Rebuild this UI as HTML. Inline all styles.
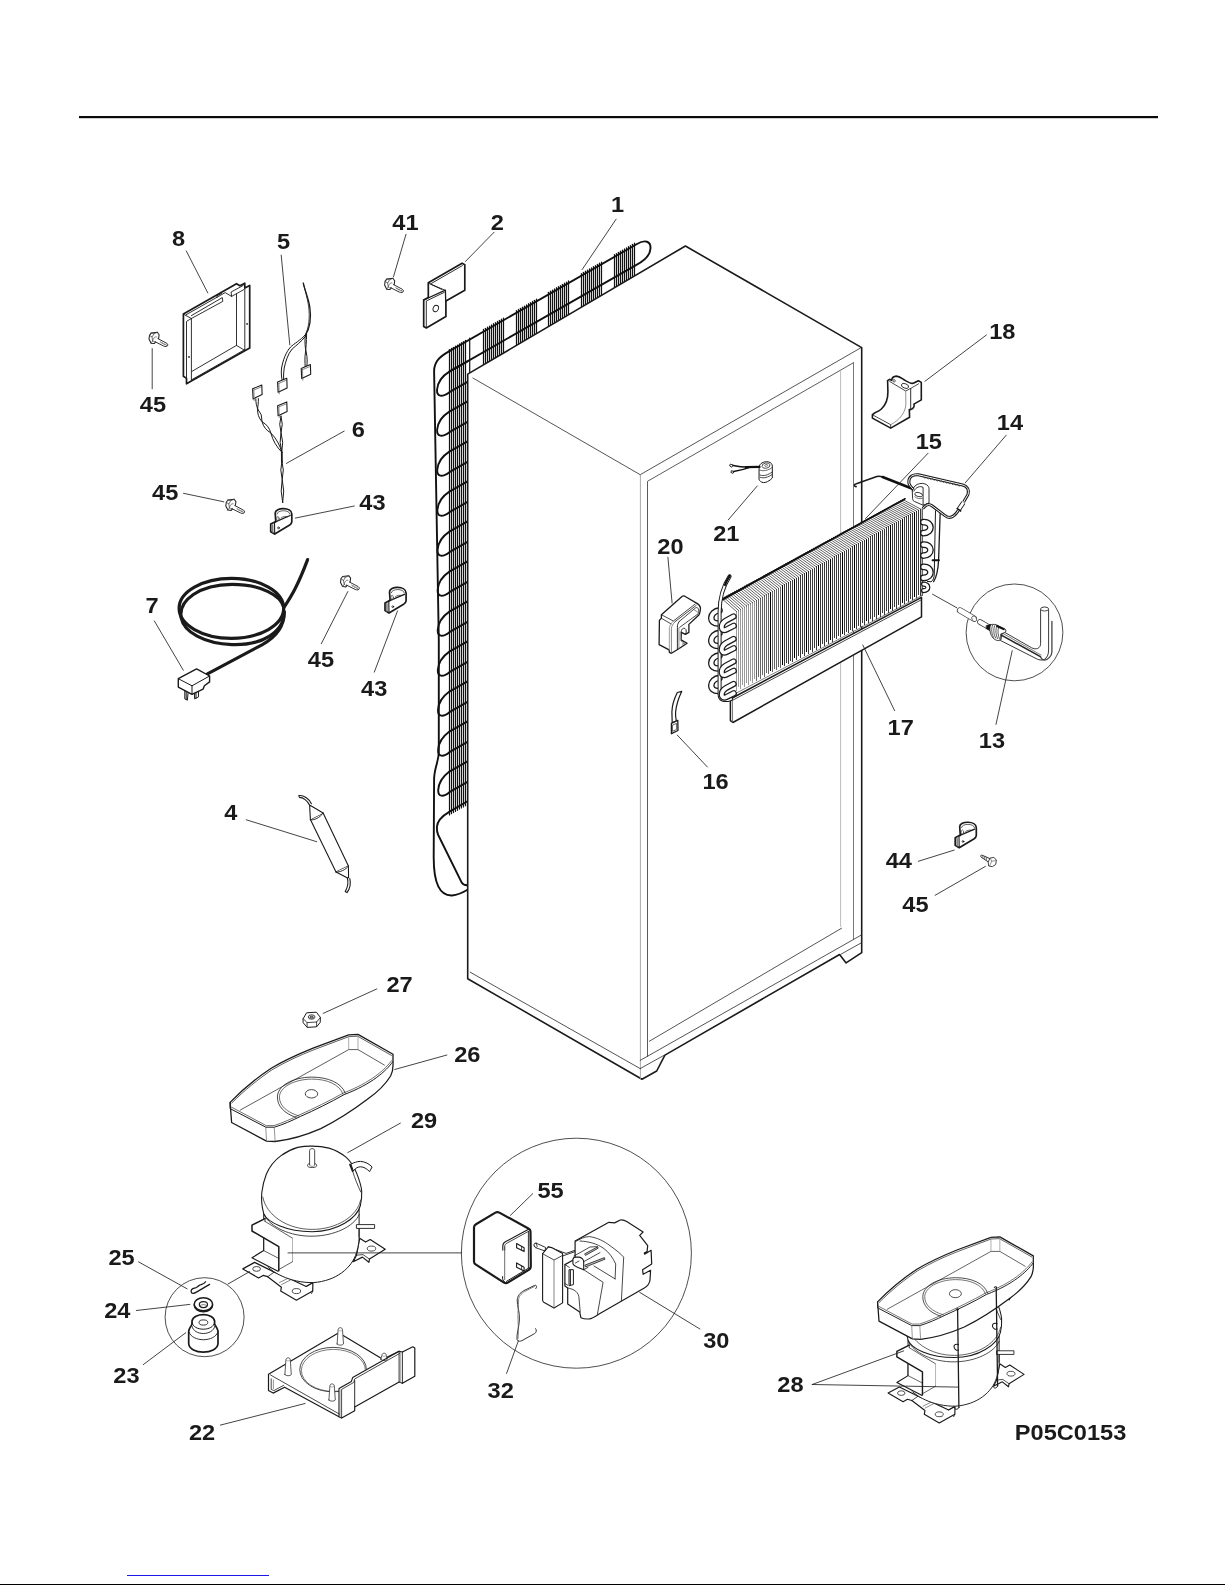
<!DOCTYPE html>
<html><head><meta charset="utf-8"><title>System parts diagram</title>
<style>
html,body{margin:0;padding:0;background:#fff;}
body{width:1225px;height:1585px;overflow:hidden;font-family:"Liberation Sans",sans-serif;}
svg{display:block;position:absolute;left:0;top:0;}
.k{stroke:#1a1a1a;fill:none;stroke-linecap:round;stroke-linejoin:round;}
.t{font-family:"Liberation Sans",sans-serif;font-weight:bold;font-size:22.6px;fill:#1a1a1a;text-anchor:middle;}
</style></head><body>
<svg width="1225" height="1585" viewBox="0 0 1225 1585">
<rect x="0" y="0" width="1225" height="1585" fill="#fff"/>
<g id="rules">
<rect x="79" y="116" width="1079" height="2.2" fill="#0c0a0b"/>
<rect x="0" y="1584" width="1225" height="1" fill="#000"/>
<rect x="127" y="1575" width="142" height="1" fill="#1a1ae6"/>
</g>
<g id="condenser">
<line x1="449.5" y1="349.5" x2="449.5" y2="814.9" stroke="#111" stroke-width="1.2" stroke-linecap="round" />
<line x1="451.5" y1="348.4" x2="451.5" y2="813.7" stroke="#111" stroke-width="1.2" stroke-linecap="round" />
<line x1="453.5" y1="347.3" x2="453.5" y2="812.6" stroke="#111" stroke-width="1.2" stroke-linecap="round" />
<line x1="455.5" y1="346.1" x2="455.5" y2="811.4" stroke="#111" stroke-width="1.2" stroke-linecap="round" />
<line x1="457.5" y1="345.0" x2="457.5" y2="810.3" stroke="#111" stroke-width="1.2" stroke-linecap="round" />
<line x1="459.5" y1="343.8" x2="459.5" y2="809.1" stroke="#111" stroke-width="1.2" stroke-linecap="round" />
<line x1="461.5" y1="342.7" x2="461.5" y2="808.0" stroke="#111" stroke-width="1.2" stroke-linecap="round" />
<line x1="463.5" y1="341.5" x2="463.5" y2="806.9" stroke="#111" stroke-width="1.2" stroke-linecap="round" />
<line x1="465.5" y1="340.4" x2="465.5" y2="805.7" stroke="#111" stroke-width="1.2" stroke-linecap="round" />
<line x1="469.7" y1="338.0" x2="469.7" y2="373.1" stroke="#111" stroke-width="1.2" stroke-linecap="round" />
<line x1="483.5" y1="329.4" x2="483.5" y2="366.0" stroke="#111" stroke-width="1.2" stroke-linecap="round" />
<line x1="485.5" y1="328.3" x2="485.5" y2="364.8" stroke="#111" stroke-width="1.2" stroke-linecap="round" />
<line x1="487.5" y1="327.1" x2="487.5" y2="363.6" stroke="#111" stroke-width="1.2" stroke-linecap="round" />
<line x1="489.5" y1="326.0" x2="489.5" y2="362.4" stroke="#111" stroke-width="1.2" stroke-linecap="round" />
<line x1="491.5" y1="324.9" x2="491.5" y2="361.3" stroke="#111" stroke-width="1.2" stroke-linecap="round" />
<line x1="493.5" y1="323.7" x2="493.5" y2="360.1" stroke="#111" stroke-width="1.2" stroke-linecap="round" />
<line x1="495.5" y1="322.6" x2="495.5" y2="358.9" stroke="#111" stroke-width="1.2" stroke-linecap="round" />
<line x1="497.5" y1="321.4" x2="497.5" y2="357.7" stroke="#111" stroke-width="1.2" stroke-linecap="round" />
<line x1="499.5" y1="320.3" x2="499.5" y2="356.6" stroke="#111" stroke-width="1.2" stroke-linecap="round" />
<line x1="501.5" y1="319.2" x2="501.5" y2="355.4" stroke="#111" stroke-width="1.2" stroke-linecap="round" />
<line x1="503.5" y1="318.0" x2="503.5" y2="354.2" stroke="#111" stroke-width="1.2" stroke-linecap="round" />
<line x1="516.5" y1="310.6" x2="516.5" y2="346.6" stroke="#111" stroke-width="1.2" stroke-linecap="round" />
<line x1="518.5" y1="309.4" x2="518.5" y2="345.4" stroke="#111" stroke-width="1.2" stroke-linecap="round" />
<line x1="520.5" y1="308.3" x2="520.5" y2="344.2" stroke="#111" stroke-width="1.2" stroke-linecap="round" />
<line x1="522.5" y1="307.2" x2="522.5" y2="343.0" stroke="#111" stroke-width="1.2" stroke-linecap="round" />
<line x1="524.5" y1="306.0" x2="524.5" y2="341.8" stroke="#111" stroke-width="1.2" stroke-linecap="round" />
<line x1="526.5" y1="304.9" x2="526.5" y2="340.7" stroke="#111" stroke-width="1.2" stroke-linecap="round" />
<line x1="528.5" y1="303.7" x2="528.5" y2="339.5" stroke="#111" stroke-width="1.2" stroke-linecap="round" />
<line x1="530.5" y1="302.6" x2="530.5" y2="338.3" stroke="#111" stroke-width="1.2" stroke-linecap="round" />
<line x1="532.5" y1="301.4" x2="532.5" y2="337.1" stroke="#111" stroke-width="1.2" stroke-linecap="round" />
<line x1="534.5" y1="300.3" x2="534.5" y2="336.0" stroke="#111" stroke-width="1.2" stroke-linecap="round" />
<line x1="536.5" y1="299.2" x2="536.5" y2="334.8" stroke="#111" stroke-width="1.2" stroke-linecap="round" />
<line x1="548.5" y1="292.3" x2="548.5" y2="327.7" stroke="#111" stroke-width="1.2" stroke-linecap="round" />
<line x1="550.5" y1="291.2" x2="550.5" y2="326.5" stroke="#111" stroke-width="1.2" stroke-linecap="round" />
<line x1="552.5" y1="290.0" x2="552.5" y2="325.4" stroke="#111" stroke-width="1.2" stroke-linecap="round" />
<line x1="554.5" y1="288.9" x2="554.5" y2="324.2" stroke="#111" stroke-width="1.2" stroke-linecap="round" />
<line x1="556.5" y1="287.7" x2="556.5" y2="323.0" stroke="#111" stroke-width="1.2" stroke-linecap="round" />
<line x1="558.5" y1="286.6" x2="558.5" y2="321.8" stroke="#111" stroke-width="1.2" stroke-linecap="round" />
<line x1="560.5" y1="285.5" x2="560.5" y2="320.7" stroke="#111" stroke-width="1.2" stroke-linecap="round" />
<line x1="562.5" y1="284.3" x2="562.5" y2="319.5" stroke="#111" stroke-width="1.2" stroke-linecap="round" />
<line x1="564.5" y1="283.2" x2="564.5" y2="318.3" stroke="#111" stroke-width="1.2" stroke-linecap="round" />
<line x1="566.5" y1="282.0" x2="566.5" y2="317.1" stroke="#111" stroke-width="1.2" stroke-linecap="round" />
<line x1="568.5" y1="280.9" x2="568.5" y2="316.0" stroke="#111" stroke-width="1.2" stroke-linecap="round" />
<line x1="581.5" y1="273.5" x2="581.5" y2="308.3" stroke="#111" stroke-width="1.2" stroke-linecap="round" />
<line x1="583.5" y1="272.3" x2="583.5" y2="307.1" stroke="#111" stroke-width="1.2" stroke-linecap="round" />
<line x1="585.5" y1="271.2" x2="585.5" y2="306.0" stroke="#111" stroke-width="1.2" stroke-linecap="round" />
<line x1="587.5" y1="270.0" x2="587.5" y2="304.8" stroke="#111" stroke-width="1.2" stroke-linecap="round" />
<line x1="589.5" y1="268.9" x2="589.5" y2="303.6" stroke="#111" stroke-width="1.2" stroke-linecap="round" />
<line x1="591.5" y1="267.8" x2="591.5" y2="302.4" stroke="#111" stroke-width="1.2" stroke-linecap="round" />
<line x1="593.5" y1="266.6" x2="593.5" y2="301.2" stroke="#111" stroke-width="1.2" stroke-linecap="round" />
<line x1="595.5" y1="265.5" x2="595.5" y2="300.1" stroke="#111" stroke-width="1.2" stroke-linecap="round" />
<line x1="597.5" y1="264.3" x2="597.5" y2="298.9" stroke="#111" stroke-width="1.2" stroke-linecap="round" />
<line x1="599.5" y1="263.2" x2="599.5" y2="297.7" stroke="#111" stroke-width="1.2" stroke-linecap="round" />
<line x1="601.5" y1="262.1" x2="601.5" y2="296.5" stroke="#111" stroke-width="1.2" stroke-linecap="round" />
<line x1="614.5" y1="254.6" x2="614.5" y2="288.9" stroke="#111" stroke-width="1.2" stroke-linecap="round" />
<line x1="616.5" y1="253.5" x2="616.5" y2="287.7" stroke="#111" stroke-width="1.2" stroke-linecap="round" />
<line x1="618.5" y1="252.3" x2="618.5" y2="286.5" stroke="#111" stroke-width="1.2" stroke-linecap="round" />
<line x1="620.5" y1="251.2" x2="620.5" y2="285.4" stroke="#111" stroke-width="1.2" stroke-linecap="round" />
<line x1="622.5" y1="250.1" x2="622.5" y2="284.2" stroke="#111" stroke-width="1.2" stroke-linecap="round" />
<line x1="624.5" y1="248.9" x2="624.5" y2="283.0" stroke="#111" stroke-width="1.2" stroke-linecap="round" />
<line x1="626.5" y1="247.8" x2="626.5" y2="281.8" stroke="#111" stroke-width="1.2" stroke-linecap="round" />
<line x1="628.5" y1="246.6" x2="628.5" y2="280.6" stroke="#111" stroke-width="1.2" stroke-linecap="round" />
<line x1="630.5" y1="245.5" x2="630.5" y2="279.5" stroke="#111" stroke-width="1.2" stroke-linecap="round" />
<line x1="632.5" y1="244.3" x2="632.5" y2="278.3" stroke="#111" stroke-width="1.2" stroke-linecap="round" />
<line x1="634.5" y1="243.2" x2="634.5" y2="277.1" stroke="#111" stroke-width="1.2" stroke-linecap="round" />
<path d="M449.4 351.1 L637 244 C645 239.4 651.2 241 650.4 249 C649.8 256 644 261 636 265.1 L449.4 371.6" stroke="#111" stroke-width="1.9" fill="none" stroke-linecap="round" stroke-linejoin="round" />
<path d="M449.4 351.1 C440 356.5 434.3 361 434.1 371 L438.8 640 L438.8 752 C438.6 762 434.3 768 434.1 779 L433.7 856 C433.5 884 440 896 452 895.5 C458 895 463 892.5 467.5 889.8" stroke="#111" stroke-width="1.9" fill="none" stroke-linecap="round" stroke-linejoin="round" />
<path d="M467.5 361.3 L449.4 371.6 C443.0 375.5 437.5 382.0 437.0 390.0 C436.8 396.8 442.0 397.6 449.4 392.2 L467.5 381.9" stroke="#111" stroke-width="1.9" fill="none" stroke-linecap="round" stroke-linejoin="round" />
<path d="M467.5 401.3 L449.4 411.6 C443.1 415.5 437.6 422.0 437.1 430.0 C436.9 436.8 442.1 437.6 449.4 432.2 L467.5 421.9" stroke="#111" stroke-width="1.9" fill="none" stroke-linecap="round" stroke-linejoin="round" />
<path d="M467.5 441.3 L449.4 451.6 C443.2 455.5 437.7 462.0 437.2 470.0 C437.0 476.8 442.2 477.6 449.4 472.2 L467.5 461.9" stroke="#111" stroke-width="1.9" fill="none" stroke-linecap="round" stroke-linejoin="round" />
<path d="M467.5 481.3 L449.4 491.6 C443.4 495.5 437.9 502.0 437.4 510.0 C437.2 516.8 442.4 517.6 449.4 512.2 L467.5 501.9" stroke="#111" stroke-width="1.9" fill="none" stroke-linecap="round" stroke-linejoin="round" />
<path d="M467.5 521.3 L449.4 531.6 C443.5 535.5 438.0 542.0 437.5 550.0 C437.3 556.8 442.5 557.6 449.4 552.2 L467.5 541.9" stroke="#111" stroke-width="1.9" fill="none" stroke-linecap="round" stroke-linejoin="round" />
<path d="M467.5 561.3 L449.4 571.6 C443.6 575.5 438.1 582.0 437.6 590.0 C437.4 596.8 442.6 597.6 449.4 592.2 L467.5 581.9" stroke="#111" stroke-width="1.9" fill="none" stroke-linecap="round" stroke-linejoin="round" />
<path d="M467.5 601.3 L449.4 611.6 C443.7 615.5 438.2 622.0 437.7 630.0 C437.5 636.8 442.7 637.6 449.4 632.2 L467.5 621.9" stroke="#111" stroke-width="1.9" fill="none" stroke-linecap="round" stroke-linejoin="round" />
<path d="M467.5 641.3 L449.4 651.6 C443.8 655.5 438.3 662.0 437.8 670.0 C437.6 676.8 442.8 677.6 449.4 672.2 L467.5 661.9" stroke="#111" stroke-width="1.9" fill="none" stroke-linecap="round" stroke-linejoin="round" />
<path d="M467.5 681.3 L449.4 691.6 C444.0 695.5 438.5 702.0 438.0 710.0 C437.8 716.8 443.0 717.6 449.4 712.2 L467.5 701.9" stroke="#111" stroke-width="1.9" fill="none" stroke-linecap="round" stroke-linejoin="round" />
<path d="M467.5 721.3 L449.4 731.6 C444.1 735.5 438.6 742.0 438.1 750.0 C437.9 756.8 443.1 757.6 449.4 752.2 L467.5 741.9" stroke="#111" stroke-width="1.9" fill="none" stroke-linecap="round" stroke-linejoin="round" />
<path d="M467.5 761.3 L449.4 771.6 C444.2 775.5 438.7 782.0 438.2 790.0 C438.0 796.8 443.2 797.6 449.4 792.2 L467.5 781.9" stroke="#111" stroke-width="1.9" fill="none" stroke-linecap="round" stroke-linejoin="round" />
<path d="M467.5 801.3 L449.6 811.6 C443 815.5 437.2 820 436.9 827 C436.7 831 437.3 833 438.2 835 L461.6 882.3 C462.8 884.6 464.5 885.3 467.5 885.2" stroke="#111" stroke-width="1.9" fill="none" stroke-linecap="round" stroke-linejoin="round" />
</g>
<g id="cabinet">
<path d="M467.7 978.7 L467.7 374.1 L685.4 246 L861.7 347.6 L861.7 952.7 L846.1 962.9 L839.6 954.5 L664.9 1055.1 L656.7 1071 L642 1079.2 Z" stroke="#1a1a1a" stroke-width="1.6" fill="#fff" stroke-linecap="round" stroke-linejoin="round" />
<line x1="472.9" y1="378.0" x2="640.2" y2="474.7" stroke="#2a2a2a" stroke-width="0.8" stroke-linecap="round" />
<line x1="640.2" y1="474.7" x2="861.2" y2="347.6" stroke="#2a2a2a" stroke-width="0.8" stroke-linecap="round" />
<line x1="640.4" y1="474.7" x2="640.4" y2="1078.4" stroke="#a8a8a8" stroke-width="1.0" stroke-linecap="round" />
<path d="M647.5 1056.3 L647.5 481.3 L853.5 362.7" stroke="#4a4a4a" stroke-width="0.9" fill="none" stroke-linecap="round" stroke-linejoin="round" />
<line x1="853.5" y1="362.7" x2="853.5" y2="939.0" stroke="#555" stroke-width="0.8" stroke-linecap="round" />
<line x1="840.6" y1="370.8" x2="840.6" y2="926.5" stroke="#b5b5b5" stroke-width="0.9" stroke-linecap="round" />
<line x1="649.4" y1="1041.2" x2="841.6" y2="928.2" stroke="#2a2a2a" stroke-width="0.8" stroke-linecap="round" />
<line x1="470.2" y1="972.2" x2="640.2" y2="1068.6" stroke="#2a2a2a" stroke-width="0.8" stroke-linecap="round" />
<line x1="640.2" y1="1068.6" x2="663.7" y2="1055.5" stroke="#2a2a2a" stroke-width="0.8" stroke-linecap="round" />
<line x1="640.2" y1="1060.4" x2="861.2" y2="935.1" stroke="#2a2a2a" stroke-width="0.8" stroke-linecap="round" />
<line x1="840.8" y1="954.3" x2="861.2" y2="942.9" stroke="#2a2a2a" stroke-width="0.8" stroke-linecap="round" />
</g>
<g id="p8">
<path d="M183.4 314.1 L236.5 283.7 L239.9 285.7 L244.8 283.2 L244.8 288.1 L249.7 285.5 L249.7 347.9 L186.5 383.8 L186.5 378.4 L183.4 376.3 Z" stroke="#1a1a1a" stroke-width="1.7" fill="#fff" stroke-linecap="round" stroke-linejoin="round" />
<path d="M186.5 378.4 L186.5 321.4 L191.4 318.5 L191.4 380.4" stroke="#1a1a1a" stroke-width="0.9" fill="none" stroke-linecap="round" stroke-linejoin="round" />
<line x1="183.4" y1="314.1" x2="191.4" y2="318.5" stroke="#1a1a1a" stroke-width="0.9" stroke-linecap="round" />
<path d="M191.4 315.6 L222.3 297.6 L222.8 301.4 L191.4 318.5" stroke="#1a1a1a" stroke-width="0.9" fill="none" stroke-linecap="round" stroke-linejoin="round" />
<path d="M216.9 297.6 L217 295.8 L221.5 293.6" stroke="#1a1a1a" stroke-width="0.9" fill="none" stroke-linecap="round" stroke-linejoin="round" />
<path d="M186 314.8 L225.2 292.6 L231.6 296.4 L243.8 289.6" stroke="#1a1a1a" stroke-width="0.9" fill="none" stroke-linecap="round" stroke-linejoin="round" />
<path d="M231.6 296.4 L231.1 292 L243.3 285.4" stroke="#1a1a1a" stroke-width="0.9" fill="none" stroke-linecap="round" stroke-linejoin="round" />
<line x1="236.5" y1="294.0" x2="236.5" y2="345.4" stroke="#1a1a1a" stroke-width="0.9" stroke-linecap="round" />
<line x1="244.8" y1="288.1" x2="244.8" y2="349.8" stroke="#1a1a1a" stroke-width="0.9" stroke-linecap="round" />
<path d="M191.9 371.4 L236.5 345.4 L243.8 349.8" stroke="#1a1a1a" stroke-width="0.9" fill="none" stroke-linecap="round" stroke-linejoin="round" />
<line x1="191.4" y1="379.9" x2="244.8" y2="349.6" stroke="#1a1a1a" stroke-width="0.9" stroke-linecap="round" />
<circle cx="189" cy="356.9" r="0.9" fill="#1a1a1a"/>
<circle cx="247.1" cy="323.9" r="0.9" fill="#1a1a1a"/>
</g>
<g transform="translate(154.0,338.0)" stroke="#333" fill="none" stroke-width="0.8" stroke-linecap="round" stroke-linejoin="round"><path d="M-2.9 -4.9 L3.3 -5.7 L5.1 -3.3 L4.6 0.6 M-2.9 -4.9 L-4.5 -2.6 L-5 1 L-2.9 5.2 L0.4 5.5 L1.6 4" stroke-width="1.05" stroke="#222"/><path d="M-2.9 -4.9 L0 -4.2 L3.3 -5.7 M0 -4.2 L-2 -1 L-4.5 -2.6 M-2 -1 L-1.3 3 L-2.9 5.2" stroke="#444" stroke-width="0.75"/><path d="M-1.3 3 C-1 0.2 0.6 -1.6 2.4 -1.2 M-1.3 3 C-0.4 4.2 0.6 4.4 1.6 4" stroke="#555" stroke-width="0.7"/><path d="M3.9 0.6 L12.8 5.3 C14.2 6.2 14.2 7.9 12.6 8.4 C11.4 8.7 10.6 8.5 9.6 8 L1 3.7" stroke-width="1"/><path d="M6.4 3.6 L7.4 5.1 M8 4.4 L9.2 6.1 M9.8 5.4 L11 7 M11.6 6.2 L12.6 7.6" stroke="#555" stroke-width="0.8"/></g>
<g transform="translate(389.6,284.0)" stroke="#333" fill="none" stroke-width="0.8" stroke-linecap="round" stroke-linejoin="round"><path d="M-2.9 -4.9 L3.3 -5.7 L5.1 -3.3 L4.6 0.6 M-2.9 -4.9 L-4.5 -2.6 L-5 1 L-2.9 5.2 L0.4 5.5 L1.6 4" stroke-width="1.05" stroke="#222"/><path d="M-2.9 -4.9 L0 -4.2 L3.3 -5.7 M0 -4.2 L-2 -1 L-4.5 -2.6 M-2 -1 L-1.3 3 L-2.9 5.2" stroke="#444" stroke-width="0.75"/><path d="M-1.3 3 C-1 0.2 0.6 -1.6 2.4 -1.2 M-1.3 3 C-0.4 4.2 0.6 4.4 1.6 4" stroke="#555" stroke-width="0.7"/><path d="M3.9 0.6 L12.8 5.3 C14.2 6.2 14.2 7.9 12.6 8.4 C11.4 8.7 10.6 8.5 9.6 8 L1 3.7" stroke-width="1"/><path d="M6.4 3.6 L7.4 5.1 M8 4.4 L9.2 6.1 M9.8 5.4 L11 7 M11.6 6.2 L12.6 7.6" stroke="#555" stroke-width="0.8"/></g>
<g transform="translate(230.8,504.9)" stroke="#333" fill="none" stroke-width="0.8" stroke-linecap="round" stroke-linejoin="round"><path d="M-2.9 -4.9 L3.3 -5.7 L5.1 -3.3 L4.6 0.6 M-2.9 -4.9 L-4.5 -2.6 L-5 1 L-2.9 5.2 L0.4 5.5 L1.6 4" stroke-width="1.05" stroke="#222"/><path d="M-2.9 -4.9 L0 -4.2 L3.3 -5.7 M0 -4.2 L-2 -1 L-4.5 -2.6 M-2 -1 L-1.3 3 L-2.9 5.2" stroke="#444" stroke-width="0.75"/><path d="M-1.3 3 C-1 0.2 0.6 -1.6 2.4 -1.2 M-1.3 3 C-0.4 4.2 0.6 4.4 1.6 4" stroke="#555" stroke-width="0.7"/><path d="M3.9 0.6 L12.8 5.3 C14.2 6.2 14.2 7.9 12.6 8.4 C11.4 8.7 10.6 8.5 9.6 8 L1 3.7" stroke-width="1"/><path d="M6.4 3.6 L7.4 5.1 M8 4.4 L9.2 6.1 M9.8 5.4 L11 7 M11.6 6.2 L12.6 7.6" stroke="#555" stroke-width="0.8"/></g>
<g transform="translate(345.5,581.4)" stroke="#333" fill="none" stroke-width="0.8" stroke-linecap="round" stroke-linejoin="round"><path d="M-2.9 -4.9 L3.3 -5.7 L5.1 -3.3 L4.6 0.6 M-2.9 -4.9 L-4.5 -2.6 L-5 1 L-2.9 5.2 L0.4 5.5 L1.6 4" stroke-width="1.05" stroke="#222"/><path d="M-2.9 -4.9 L0 -4.2 L3.3 -5.7 M0 -4.2 L-2 -1 L-4.5 -2.6 M-2 -1 L-1.3 3 L-2.9 5.2" stroke="#444" stroke-width="0.75"/><path d="M-1.3 3 C-1 0.2 0.6 -1.6 2.4 -1.2 M-1.3 3 C-0.4 4.2 0.6 4.4 1.6 4" stroke="#555" stroke-width="0.7"/><path d="M3.9 0.6 L12.8 5.3 C14.2 6.2 14.2 7.9 12.6 8.4 C11.4 8.7 10.6 8.5 9.6 8 L1 3.7" stroke-width="1"/><path d="M6.4 3.6 L7.4 5.1 M8 4.4 L9.2 6.1 M9.8 5.4 L11 7 M11.6 6.2 L12.6 7.6" stroke="#555" stroke-width="0.8"/></g>
<g transform="translate(992.3,862.1)" stroke="#333" fill="none" stroke-width="0.9" stroke-linecap="round" stroke-linejoin="round"><path d="M-2.6 -3.6 L-10.4 -7 C-11.6 -7.3 -12 -6 -11.2 -5 L-4.2 -0.3" stroke-width="1"/><path d="M-9.6 -6.4 L-9.4 -4.4 M-7.8 -5.6 L-7.6 -3.4 M-6 -4.8 L-5.8 -2.4" stroke="#555" stroke-width="0.8"/><path d="M-2 -4 L1.6 -4.8 L4.1 -2 L3.4 2.4 L0 4.6 L-3.6 3.9 L-4.1 0.6 Z" stroke-width="1" stroke="#444"/><path d="M-2 -4 L-0.6 -0.8 L-2.6 3.6 M-0.6 -0.8 L3.8 -1.6" stroke="#666" stroke-width="0.7"/></g>
<g id="w56">
<path d="M303.3 283.1 C305 291 308.6 299 309.8 307 C311.4 318 310 328 305.3 335.3" stroke="#1a1a1a" stroke-width="1.3" fill="none" stroke-linecap="round" stroke-linejoin="round" />
<path d="M303.3 283.1 C305.6 292 307 297 308.6 306 C310 318 309 327 305.3 335.3" stroke="#1a1a1a" stroke-width="0.8" fill="none" stroke-linecap="round" stroke-linejoin="round" />
<path d="M306 334 C300 341 294 343.5 290.6 347 C286 352 283 360 281.6 368 C281 372 281.4 376 282 379.6" stroke="#1a1a1a" stroke-width="1.0" fill="none" stroke-linecap="round" stroke-linejoin="round" />
<path d="M305.6 336.2 C301 342 296 345.5 292.2 349 C287.6 354 285.6 362 284.2 368 C283.6 372 283.4 376 283.6 379.2" stroke="#1a1a1a" stroke-width="1.0" fill="none" stroke-linecap="round" stroke-linejoin="round" />
<path d="M305.3 335.3 C304.6 342 305 348 306.4 353 C307.4 358 307.2 362 306.9 366.2" stroke="#1a1a1a" stroke-width="1.0" fill="none" stroke-linecap="round" stroke-linejoin="round" />
<path d="M306.6 334 C306.4 342 306 348 305.4 353 C304.6 358 305 362 305.2 366.8" stroke="#1a1a1a" stroke-width="1.0" fill="none" stroke-linecap="round" stroke-linejoin="round" />
<path d="M301.2 368.4 l9.2 -3.8 l0.3 9.6 l-9 4.3 Z" stroke="#1a1a1a" stroke-width="1.1" fill="#fff" stroke-linecap="round" stroke-linejoin="round" />
<path d="M302.5 369.6 l7 -2.9 M302.5 369.6 l0.3 10.6" stroke="#555" stroke-width="0.7" fill="none" stroke-linecap="round" stroke-linejoin="round" />
<path d="M277.6 382.1 l9.2 -3.8 l0.3 9.6 l-9 4.3 Z" stroke="#1a1a1a" stroke-width="1.1" fill="#fff" stroke-linecap="round" stroke-linejoin="round" />
<path d="M278.9 383.3 l7 -2.9 M278.9 383.3 l0.3 10.6" stroke="#555" stroke-width="0.7" fill="none" stroke-linecap="round" stroke-linejoin="round" />
<path d="M252.6 388.8 l9.2 -3.8 l0.3 9.6 l-9 4.3 Z" stroke="#1a1a1a" stroke-width="1.1" fill="#fff" stroke-linecap="round" stroke-linejoin="round" />
<path d="M253.9 390.0 l7 -2.9 M253.9 390.0 l0.3 10.6" stroke="#555" stroke-width="0.7" fill="none" stroke-linecap="round" stroke-linejoin="round" />
<path d="M277.6 405.7 l9.2 -3.8 l0.3 9.6 l-9 4.3 Z" stroke="#1a1a1a" stroke-width="1.1" fill="#fff" stroke-linecap="round" stroke-linejoin="round" />
<path d="M278.9 406.9 l7 -2.9 M278.9 406.9 l0.3 10.6" stroke="#555" stroke-width="0.7" fill="none" stroke-linecap="round" stroke-linejoin="round" />
<path d="M255.8 398.9 C255.8 403 256.6 406 257.6 408.7 M258.4 398.6 C258.4 403 258 406 257.6 408.7" stroke="#1a1a1a" stroke-width="1.0" fill="none" stroke-linecap="round" stroke-linejoin="round" />
<path d="M257.6 408.7 Q257.0 416.2 262.1 421.8 Q268.8 425.5 270.8 432.9 Q273.7 444.0 281.8 452.2" stroke="#1a1a1a" stroke-width="1.0" fill="none" stroke-linecap="round" stroke-linejoin="round" />
<path d="M257.6 408.7 Q262.7 414.3 262.1 421.8 Q264.1 429.2 270.8 432.9 Q278.9 441.1 281.8 452.2" stroke="#1a1a1a" stroke-width="1.0" fill="none" stroke-linecap="round" stroke-linejoin="round" />
<path d="M281.0 416.1 Q278.4 424.3 281.0 432.5 Q284.0 442.2 281.8 452.2" stroke="#1a1a1a" stroke-width="1.0" fill="none" stroke-linecap="round" stroke-linejoin="round" />
<path d="M281.0 416.1 Q283.6 424.3 281.0 432.5 Q278.8 442.5 281.8 452.2" stroke="#1a1a1a" stroke-width="1.0" fill="none" stroke-linecap="round" stroke-linejoin="round" />
<path d="M281.8 452.2 L281.9 462" stroke="#1a1a1a" stroke-width="1.8" fill="none" stroke-linecap="round" stroke-linejoin="round" />
<path d="M281.9 461.0 Q279.5 470.2 282.2 479.3 Q285.0 490.9 282.7 502.6" stroke="#1a1a1a" stroke-width="1.0" fill="none" stroke-linecap="round" stroke-linejoin="round" />
<path d="M281.9 461.0 Q284.6 470.1 282.2 479.3 Q279.9 491.0 282.7 502.6" stroke="#1a1a1a" stroke-width="1.0" fill="none" stroke-linecap="round" stroke-linejoin="round" />
</g>
<g transform="translate(283.5,513.5)" stroke="#1a1a1a" fill="none" stroke-linecap="round" stroke-linejoin="round"><path d="M-8.3 -0.4 C-8.4 -6.4 8.4 -6.6 8.3 0.6 L8.3 8.4 C8.2 10 7.4 10.8 6.2 11.6 L-8.8 20.6 L-12.8 18.2 L-12.8 10.6 L-8.6 8.4 L-7.7 8.2 Z" fill="#fff" stroke-width="1.7"/><path d="M-6.5 0.4 C-6.2 -3.9 6.2 -4 6.5 0.6" stroke-width="0.8" stroke="#333"/><path d="M-2.4 4.4 C-0.6 2.9 2.2 2.6 4 3.2" stroke-width="0.8" stroke="#444"/><path d="M-8.6 8.6 L6.6 2" stroke-width="1.3"/><ellipse cx="-5.6" cy="5.2" rx="1.2" ry="2.3" stroke-width="0.7" stroke="#444"/><path d="M-9 9.4 L-8.8 20.4" stroke-width="1.1"/><path d="M-10.9 11.4 L-10.8 18.6" stroke-width="1.5" stroke="#777"/><circle cx="-5" cy="14.4" r="0.9" stroke-width="0.8"/></g>
<g transform="translate(397.8,592.3)" stroke="#1a1a1a" fill="none" stroke-linecap="round" stroke-linejoin="round"><path d="M-8.3 -0.4 C-8.4 -6.4 8.4 -6.6 8.3 0.6 L8.3 8.4 C8.2 10 7.4 10.8 6.2 11.6 L-8.8 20.6 L-12.8 18.2 L-12.8 10.6 L-8.6 8.4 L-7.7 8.2 Z" fill="#fff" stroke-width="1.7"/><path d="M-6.5 0.4 C-6.2 -3.9 6.2 -4 6.5 0.6" stroke-width="0.8" stroke="#333"/><path d="M-2.4 4.4 C-0.6 2.9 2.2 2.6 4 3.2" stroke-width="0.8" stroke="#444"/><path d="M-8.6 8.6 L6.6 2" stroke-width="1.3"/><ellipse cx="-5.6" cy="5.2" rx="1.2" ry="2.3" stroke-width="0.7" stroke="#444"/><path d="M-9 9.4 L-8.8 20.4" stroke-width="1.1"/><path d="M-10.9 11.4 L-10.8 18.6" stroke-width="1.5" stroke="#777"/><circle cx="-5" cy="14.4" r="0.9" stroke-width="0.8"/></g>
<g transform="translate(968.0,827.1)" stroke="#1a1a1a" fill="none" stroke-linecap="round" stroke-linejoin="round"><path d="M-8.3 -0.4 C-8.4 -6.4 8.4 -6.6 8.3 0.6 L8.3 8.4 C8.2 10 7.4 10.8 6.2 11.6 L-8.8 20.6 L-12.8 18.2 L-12.8 10.6 L-8.6 8.4 L-7.7 8.2 Z" fill="#fff" stroke-width="1.7"/><path d="M-6.5 0.4 C-6.2 -3.9 6.2 -4 6.5 0.6" stroke-width="0.8" stroke="#333"/><path d="M-2.4 4.4 C-0.6 2.9 2.2 2.6 4 3.2" stroke-width="0.8" stroke="#444"/><path d="M-8.6 8.6 L6.6 2" stroke-width="1.3"/><ellipse cx="-5.6" cy="5.2" rx="1.2" ry="2.3" stroke-width="0.7" stroke="#444"/><path d="M-9 9.4 L-8.8 20.4" stroke-width="1.1"/><path d="M-10.9 11.4 L-10.8 18.6" stroke-width="1.5" stroke="#777"/><circle cx="-5" cy="14.4" r="0.9" stroke-width="0.8"/></g>
<g id="cord7">
<ellipse cx="231.4" cy="608.3" rx="52.3" ry="30" stroke="#1a1a1a" stroke-width="3.2" fill="none"/>
<path d="M284.1 611 C285 632 262 645.6 232 644.6 C204 643.6 184 632 181.2 618 C178 600 200 584.6 232 584.4 C262 584.4 281 596 283.6 607" stroke="#1a1a1a" stroke-width="3.2" fill="none" stroke-linecap="round" stroke-linejoin="round" />
<path d="M283.6 608 C290 598 297 588 307.6 559.6" stroke="#1a1a1a" stroke-width="3.2" fill="none" stroke-linecap="round" stroke-linejoin="round" stroke-linecap="butt"/>
<path d="M207.5 673.8 L262 644.8 C275 637.6 284.4 627 284.2 612" stroke="#1a1a1a" stroke-width="3.2" fill="none" stroke-linecap="round" stroke-linejoin="round" />
<path d="M178.3 678.7 L196.6 668.9 L209.6 676 L209.6 681.9 L204.4 685.8 L203.1 689.1 L192 694.3 L178.3 687.1 Z" stroke="#1a1a1a" stroke-width="1.4" fill="#fff" stroke-linecap="round" stroke-linejoin="round" />
<path d="M178.3 678.7 L192 685.8 L209.6 676 M192 685.8 L192 694.3" stroke="#1a1a1a" stroke-width="1.0" fill="none" stroke-linecap="round" stroke-linejoin="round" />
<path d="M184.8 690.6 L184.8 698.9 L187.4 700.2 L188.1 692.6 M186.2 691.4 L186.2 699.4" stroke="#1a1a1a" stroke-width="1.0" fill="none" stroke-linecap="round" stroke-linejoin="round" />
<path d="M194.6 693.2 L194.6 698.9 L198.5 696.9 L198.5 691.4 M196 692.6 L196 698.2" stroke="#1a1a1a" stroke-width="1.0" fill="none" stroke-linecap="round" stroke-linejoin="round" />
</g>
<g id="brk2">
<path d="M428.3 282.8 L462.1 263.2 L464.8 264.7 L464.8 290.2 L445.9 300.9 L445.9 316.6 L426.3 327.9 L423.7 326.4 L423.7 300 L428.3 297.5 Z" stroke="#1a1a1a" stroke-width="1.7" fill="#fff" stroke-linecap="round" stroke-linejoin="round" />
<path d="M430.4 284 L462.4 265.6" stroke="#1a1a1a" stroke-width="0.9" fill="none" stroke-linecap="round" stroke-linejoin="round" />
<path d="M429 283.4 L445.4 290.4 M431.4 284.6 L441.8 289.4" stroke="#1a1a1a" stroke-width="0.9" fill="none" stroke-linecap="round" stroke-linejoin="round" />
<path d="M423.7 300 L445.4 290.2 L445.7 301" stroke="#1a1a1a" stroke-width="1.3" fill="none" stroke-linecap="round" stroke-linejoin="round" />
<path d="M426.3 327.6 L426.3 301 L444.2 292.4" stroke="#1a1a1a" stroke-width="0.9" fill="none" stroke-linecap="round" stroke-linejoin="round" />
<ellipse cx="435.8" cy="308.5" rx="2.6" ry="3.3" transform="rotate(25 435.8 308.5)" stroke="#1a1a1a" stroke-width="0.9" fill="none"/>
</g>
<g id="evap">
<path d="M722.7 599.6 L904.4 499.2 L921.6 508.4 L921.6 595.2 L736.3 690.6 L736.3 611.6 Z" stroke="#fff" stroke-width="0.5" fill="#fff" stroke-linecap="round" stroke-linejoin="round" />
<path d="M730.4 699 L921.5 597.3 L921.5 616.9 L732.9 722.5 L730.4 720.6 Z" stroke="#1a1a1a" stroke-width="1.5" fill="#fff" stroke-linecap="round" stroke-linejoin="round" />
<line x1="732.4" y1="700.4" x2="921.5" y2="599.7" stroke="#1a1a1a" stroke-width="0.8" stroke-linecap="round" />
<line x1="732.4" y1="700.4" x2="732.6" y2="722.0" stroke="#555" stroke-width="0.8" stroke-linecap="round" />
<line x1="736.5" y1="611.5" x2="736.5" y2="690.5" stroke="#9a9a9a" stroke-width="1.0" stroke-linecap="round" shape-rendering="crispEdges"/>
<line x1="736.5" y1="611.5" x2="722.9" y2="599.5" stroke="#222" stroke-width="0.7" stroke-linecap="round" />
<line x1="738.5" y1="610.4" x2="738.5" y2="686.9" stroke="#9a9a9a" stroke-width="1.0" stroke-linecap="round" shape-rendering="crispEdges"/>
<line x1="738.5" y1="610.4" x2="724.9" y2="598.4" stroke="#222" stroke-width="0.7" stroke-linecap="round" />
<line x1="740.5" y1="609.3" x2="740.5" y2="688.4" stroke="#9a9a9a" stroke-width="1.0" stroke-linecap="round" shape-rendering="crispEdges"/>
<line x1="740.5" y1="609.3" x2="726.8" y2="597.3" stroke="#222" stroke-width="0.7" stroke-linecap="round" />
<line x1="742.5" y1="608.1" x2="742.5" y2="684.8" stroke="#9a9a9a" stroke-width="1.0" stroke-linecap="round" shape-rendering="crispEdges"/>
<line x1="742.5" y1="608.1" x2="728.8" y2="596.2" stroke="#222" stroke-width="0.7" stroke-linecap="round" />
<line x1="744.5" y1="607.0" x2="744.5" y2="686.4" stroke="#9a9a9a" stroke-width="1.0" stroke-linecap="round" shape-rendering="crispEdges"/>
<line x1="744.5" y1="607.0" x2="730.7" y2="595.2" stroke="#222" stroke-width="0.7" stroke-linecap="round" />
<line x1="746.5" y1="605.9" x2="746.5" y2="682.7" stroke="#9a9a9a" stroke-width="1.0" stroke-linecap="round" shape-rendering="crispEdges"/>
<line x1="746.5" y1="605.9" x2="732.7" y2="594.1" stroke="#222" stroke-width="0.7" stroke-linecap="round" />
<line x1="748.5" y1="604.8" x2="748.5" y2="684.3" stroke="#9a9a9a" stroke-width="1.0" stroke-linecap="round" shape-rendering="crispEdges"/>
<line x1="748.5" y1="604.8" x2="734.7" y2="593.0" stroke="#222" stroke-width="0.7" stroke-linecap="round" />
<line x1="750.5" y1="603.7" x2="750.5" y2="680.7" stroke="#9a9a9a" stroke-width="1.0" stroke-linecap="round" shape-rendering="crispEdges"/>
<line x1="750.5" y1="603.7" x2="736.6" y2="591.9" stroke="#222" stroke-width="0.7" stroke-linecap="round" />
<line x1="752.5" y1="602.6" x2="752.5" y2="682.3" stroke="#9a9a9a" stroke-width="1.0" stroke-linecap="round" shape-rendering="crispEdges"/>
<line x1="752.5" y1="602.6" x2="738.6" y2="590.8" stroke="#222" stroke-width="0.7" stroke-linecap="round" />
<line x1="754.5" y1="601.5" x2="754.5" y2="678.6" stroke="#9a9a9a" stroke-width="1.0" stroke-linecap="round" shape-rendering="crispEdges"/>
<line x1="754.5" y1="601.5" x2="740.5" y2="589.7" stroke="#222" stroke-width="0.7" stroke-linecap="round" />
<line x1="756.5" y1="600.3" x2="756.5" y2="680.2" stroke="#666" stroke-width="1.0" stroke-linecap="round" shape-rendering="crispEdges"/>
<line x1="756.5" y1="600.3" x2="742.5" y2="588.7" stroke="#222" stroke-width="0.7" stroke-linecap="round" />
<line x1="758.5" y1="599.2" x2="758.5" y2="676.6" stroke="#666" stroke-width="1.0" stroke-linecap="round" shape-rendering="crispEdges"/>
<line x1="758.5" y1="599.2" x2="744.5" y2="587.6" stroke="#222" stroke-width="0.7" stroke-linecap="round" />
<line x1="760.5" y1="598.1" x2="760.5" y2="678.1" stroke="#666" stroke-width="1.0" stroke-linecap="round" shape-rendering="crispEdges"/>
<line x1="760.5" y1="598.1" x2="746.4" y2="586.5" stroke="#222" stroke-width="0.7" stroke-linecap="round" />
<line x1="762.5" y1="597.0" x2="762.5" y2="674.5" stroke="#666" stroke-width="1.0" stroke-linecap="round" shape-rendering="crispEdges"/>
<line x1="762.5" y1="597.0" x2="748.4" y2="585.4" stroke="#222" stroke-width="0.7" stroke-linecap="round" />
<line x1="764.5" y1="595.9" x2="764.5" y2="676.1" stroke="#666" stroke-width="1.0" stroke-linecap="round" shape-rendering="crispEdges"/>
<line x1="764.5" y1="595.9" x2="750.4" y2="584.3" stroke="#222" stroke-width="0.7" stroke-linecap="round" />
<line x1="766.5" y1="594.8" x2="766.5" y2="672.5" stroke="#666" stroke-width="1.0" stroke-linecap="round" shape-rendering="crispEdges"/>
<line x1="766.5" y1="594.8" x2="752.3" y2="583.2" stroke="#222" stroke-width="0.7" stroke-linecap="round" />
<line x1="768.5" y1="593.7" x2="768.5" y2="674.0" stroke="#666" stroke-width="1.0" stroke-linecap="round" shape-rendering="crispEdges"/>
<line x1="768.5" y1="593.7" x2="754.3" y2="582.2" stroke="#222" stroke-width="0.7" stroke-linecap="round" />
<line x1="770.5" y1="592.6" x2="770.5" y2="670.4" stroke="#000" stroke-width="1.0" stroke-linecap="round" shape-rendering="crispEdges"/>
<line x1="770.5" y1="592.6" x2="756.2" y2="581.1" stroke="#222" stroke-width="0.7" stroke-linecap="round" />
<line x1="772.5" y1="591.4" x2="772.5" y2="672.0" stroke="#666" stroke-width="1.0" stroke-linecap="round" shape-rendering="crispEdges"/>
<line x1="772.5" y1="591.4" x2="758.2" y2="580.0" stroke="#222" stroke-width="0.7" stroke-linecap="round" />
<line x1="774.5" y1="590.3" x2="774.5" y2="668.3" stroke="#666" stroke-width="1.0" stroke-linecap="round" shape-rendering="crispEdges"/>
<line x1="774.5" y1="590.3" x2="760.2" y2="578.9" stroke="#222" stroke-width="0.7" stroke-linecap="round" />
<line x1="776.5" y1="589.2" x2="776.5" y2="669.9" stroke="#666" stroke-width="1.0" stroke-linecap="round" shape-rendering="crispEdges"/>
<line x1="776.5" y1="589.2" x2="762.1" y2="577.8" stroke="#222" stroke-width="0.7" stroke-linecap="round" />
<line x1="778.5" y1="588.1" x2="778.5" y2="666.3" stroke="#666" stroke-width="1.0" stroke-linecap="round" shape-rendering="crispEdges"/>
<line x1="778.5" y1="588.1" x2="764.1" y2="576.7" stroke="#222" stroke-width="0.7" stroke-linecap="round" />
<line x1="780.5" y1="587.0" x2="780.5" y2="667.8" stroke="#666" stroke-width="1.0" stroke-linecap="round" shape-rendering="crispEdges"/>
<line x1="780.5" y1="587.0" x2="766.0" y2="575.7" stroke="#222" stroke-width="0.7" stroke-linecap="round" />
<line x1="782.5" y1="585.9" x2="782.5" y2="664.2" stroke="#000" stroke-width="1.0" stroke-linecap="round" shape-rendering="crispEdges"/>
<line x1="782.5" y1="585.9" x2="768.0" y2="574.6" stroke="#222" stroke-width="0.7" stroke-linecap="round" />
<line x1="784.5" y1="584.8" x2="784.5" y2="665.8" stroke="#3a3a3a" stroke-width="1.0" stroke-linecap="round" shape-rendering="crispEdges"/>
<line x1="784.5" y1="584.8" x2="770.0" y2="573.5" stroke="#222" stroke-width="0.7" stroke-linecap="round" />
<line x1="786.5" y1="583.6" x2="786.5" y2="662.2" stroke="#3a3a3a" stroke-width="1.0" stroke-linecap="round" shape-rendering="crispEdges"/>
<line x1="786.5" y1="583.6" x2="771.9" y2="572.4" stroke="#222" stroke-width="0.7" stroke-linecap="round" />
<line x1="788.5" y1="582.5" x2="788.5" y2="663.7" stroke="#3a3a3a" stroke-width="1.0" stroke-linecap="round" shape-rendering="crispEdges"/>
<line x1="788.5" y1="582.5" x2="773.9" y2="571.3" stroke="#222" stroke-width="0.7" stroke-linecap="round" />
<line x1="790.5" y1="581.4" x2="790.5" y2="660.1" stroke="#3a3a3a" stroke-width="1.0" stroke-linecap="round" shape-rendering="crispEdges"/>
<line x1="790.5" y1="581.4" x2="775.8" y2="570.2" stroke="#222" stroke-width="0.7" stroke-linecap="round" />
<line x1="792.5" y1="580.3" x2="792.5" y2="661.7" stroke="#3a3a3a" stroke-width="1.0" stroke-linecap="round" shape-rendering="crispEdges"/>
<line x1="792.5" y1="580.3" x2="777.8" y2="569.1" stroke="#222" stroke-width="0.7" stroke-linecap="round" />
<line x1="794.5" y1="579.2" x2="794.5" y2="658.0" stroke="#000" stroke-width="1.0" stroke-linecap="round" shape-rendering="crispEdges"/>
<line x1="794.5" y1="579.2" x2="779.8" y2="568.1" stroke="#222" stroke-width="0.7" stroke-linecap="round" />
<line x1="796.5" y1="578.1" x2="796.5" y2="659.6" stroke="#3a3a3a" stroke-width="1.0" stroke-linecap="round" shape-rendering="crispEdges"/>
<line x1="796.5" y1="578.1" x2="781.7" y2="567.0" stroke="#222" stroke-width="0.7" stroke-linecap="round" />
<line x1="798.5" y1="577.0" x2="798.5" y2="656.0" stroke="#3a3a3a" stroke-width="1.0" stroke-linecap="round" shape-rendering="crispEdges"/>
<line x1="798.5" y1="577.0" x2="783.7" y2="565.9" stroke="#222" stroke-width="0.7" stroke-linecap="round" />
<line x1="800.5" y1="575.8" x2="800.5" y2="657.5" stroke="#3a3a3a" stroke-width="1.0" stroke-linecap="round" shape-rendering="crispEdges"/>
<line x1="800.5" y1="575.8" x2="785.7" y2="564.8" stroke="#222" stroke-width="0.7" stroke-linecap="round" />
<line x1="802.5" y1="574.7" x2="802.5" y2="653.9" stroke="#3a3a3a" stroke-width="1.0" stroke-linecap="round" shape-rendering="crispEdges"/>
<line x1="802.5" y1="574.7" x2="787.6" y2="563.7" stroke="#222" stroke-width="0.7" stroke-linecap="round" />
<line x1="804.5" y1="573.6" x2="804.5" y2="655.5" stroke="#3a3a3a" stroke-width="1.0" stroke-linecap="round" shape-rendering="crispEdges"/>
<line x1="804.5" y1="573.6" x2="789.6" y2="562.6" stroke="#222" stroke-width="0.7" stroke-linecap="round" />
<line x1="806.5" y1="572.5" x2="806.5" y2="651.9" stroke="#000" stroke-width="1.0" stroke-linecap="round" shape-rendering="crispEdges"/>
<line x1="806.5" y1="572.5" x2="791.5" y2="561.6" stroke="#222" stroke-width="0.7" stroke-linecap="round" />
<line x1="808.5" y1="571.4" x2="808.5" y2="653.4" stroke="#3a3a3a" stroke-width="1.0" stroke-linecap="round" shape-rendering="crispEdges"/>
<line x1="808.5" y1="571.4" x2="793.5" y2="560.5" stroke="#222" stroke-width="0.7" stroke-linecap="round" />
<line x1="810.5" y1="570.3" x2="810.5" y2="649.8" stroke="#3a3a3a" stroke-width="1.0" stroke-linecap="round" shape-rendering="crispEdges"/>
<line x1="810.5" y1="570.3" x2="795.5" y2="559.4" stroke="#222" stroke-width="0.7" stroke-linecap="round" />
<line x1="812.5" y1="569.2" x2="812.5" y2="651.4" stroke="#3a3a3a" stroke-width="1.0" stroke-linecap="round" shape-rendering="crispEdges"/>
<line x1="812.5" y1="569.2" x2="797.4" y2="558.3" stroke="#222" stroke-width="0.7" stroke-linecap="round" />
<line x1="814.5" y1="568.0" x2="814.5" y2="647.7" stroke="#3a3a3a" stroke-width="1.0" stroke-linecap="round" shape-rendering="crispEdges"/>
<line x1="814.5" y1="568.0" x2="799.4" y2="557.2" stroke="#222" stroke-width="0.7" stroke-linecap="round" />
<line x1="816.5" y1="566.9" x2="816.5" y2="649.3" stroke="#3a3a3a" stroke-width="1.0" stroke-linecap="round" shape-rendering="crispEdges"/>
<line x1="816.5" y1="566.9" x2="801.3" y2="556.1" stroke="#222" stroke-width="0.7" stroke-linecap="round" />
<line x1="818.5" y1="565.8" x2="818.5" y2="645.7" stroke="#000" stroke-width="1.0" stroke-linecap="round" shape-rendering="crispEdges"/>
<line x1="818.5" y1="565.8" x2="803.3" y2="555.1" stroke="#222" stroke-width="0.7" stroke-linecap="round" />
<line x1="820.5" y1="564.7" x2="820.5" y2="647.3" stroke="#3a3a3a" stroke-width="1.0" stroke-linecap="round" shape-rendering="crispEdges"/>
<line x1="820.5" y1="564.7" x2="805.3" y2="554.0" stroke="#222" stroke-width="0.7" stroke-linecap="round" />
<line x1="822.5" y1="563.6" x2="822.5" y2="643.6" stroke="#3a3a3a" stroke-width="1.0" stroke-linecap="round" shape-rendering="crispEdges"/>
<line x1="822.5" y1="563.6" x2="807.2" y2="552.9" stroke="#222" stroke-width="0.7" stroke-linecap="round" />
<line x1="824.5" y1="562.5" x2="824.5" y2="645.2" stroke="#3a3a3a" stroke-width="1.0" stroke-linecap="round" shape-rendering="crispEdges"/>
<line x1="824.5" y1="562.5" x2="809.2" y2="551.8" stroke="#222" stroke-width="0.7" stroke-linecap="round" />
<line x1="826.5" y1="561.4" x2="826.5" y2="641.6" stroke="#3a3a3a" stroke-width="1.0" stroke-linecap="round" shape-rendering="crispEdges"/>
<line x1="826.5" y1="561.4" x2="811.1" y2="550.7" stroke="#222" stroke-width="0.7" stroke-linecap="round" />
<line x1="828.5" y1="560.3" x2="828.5" y2="643.1" stroke="#3a3a3a" stroke-width="1.0" stroke-linecap="round" shape-rendering="crispEdges"/>
<line x1="828.5" y1="560.3" x2="813.1" y2="549.6" stroke="#222" stroke-width="0.7" stroke-linecap="round" />
<line x1="830.5" y1="559.1" x2="830.5" y2="639.5" stroke="#000" stroke-width="1.0" stroke-linecap="round" shape-rendering="crispEdges"/>
<line x1="830.5" y1="559.1" x2="815.1" y2="548.6" stroke="#222" stroke-width="0.7" stroke-linecap="round" />
<line x1="832.5" y1="558.0" x2="832.5" y2="641.1" stroke="#3a3a3a" stroke-width="1.0" stroke-linecap="round" shape-rendering="crispEdges"/>
<line x1="832.5" y1="558.0" x2="817.0" y2="547.5" stroke="#222" stroke-width="0.7" stroke-linecap="round" />
<line x1="834.5" y1="556.9" x2="834.5" y2="637.4" stroke="#3a3a3a" stroke-width="1.0" stroke-linecap="round" shape-rendering="crispEdges"/>
<line x1="834.5" y1="556.9" x2="819.0" y2="546.4" stroke="#222" stroke-width="0.7" stroke-linecap="round" />
<line x1="836.5" y1="555.8" x2="836.5" y2="639.0" stroke="#3a3a3a" stroke-width="1.0" stroke-linecap="round" shape-rendering="crispEdges"/>
<line x1="836.5" y1="555.8" x2="821.0" y2="545.3" stroke="#222" stroke-width="0.7" stroke-linecap="round" />
<line x1="838.5" y1="554.7" x2="838.5" y2="635.4" stroke="#3a3a3a" stroke-width="1.0" stroke-linecap="round" shape-rendering="crispEdges"/>
<line x1="838.5" y1="554.7" x2="822.9" y2="544.2" stroke="#222" stroke-width="0.7" stroke-linecap="round" />
<line x1="840.5" y1="553.6" x2="840.5" y2="637.0" stroke="#3a3a3a" stroke-width="1.0" stroke-linecap="round" shape-rendering="crispEdges"/>
<line x1="840.5" y1="553.6" x2="824.9" y2="543.1" stroke="#222" stroke-width="0.7" stroke-linecap="round" />
<line x1="842.5" y1="552.5" x2="842.5" y2="633.3" stroke="#000" stroke-width="1.0" stroke-linecap="round" shape-rendering="crispEdges"/>
<line x1="842.5" y1="552.5" x2="826.8" y2="542.1" stroke="#222" stroke-width="0.7" stroke-linecap="round" />
<line x1="844.5" y1="551.3" x2="844.5" y2="634.9" stroke="#3a3a3a" stroke-width="1.0" stroke-linecap="round" shape-rendering="crispEdges"/>
<line x1="844.5" y1="551.3" x2="828.8" y2="541.0" stroke="#222" stroke-width="0.7" stroke-linecap="round" />
<line x1="846.5" y1="550.2" x2="846.5" y2="631.3" stroke="#3a3a3a" stroke-width="1.0" stroke-linecap="round" shape-rendering="crispEdges"/>
<line x1="846.5" y1="550.2" x2="830.8" y2="539.9" stroke="#222" stroke-width="0.7" stroke-linecap="round" />
<line x1="848.5" y1="549.1" x2="848.5" y2="632.8" stroke="#3a3a3a" stroke-width="1.0" stroke-linecap="round" shape-rendering="crispEdges"/>
<line x1="848.5" y1="549.1" x2="832.7" y2="538.8" stroke="#222" stroke-width="0.7" stroke-linecap="round" />
<line x1="850.5" y1="548.0" x2="850.5" y2="629.2" stroke="#3a3a3a" stroke-width="1.0" stroke-linecap="round" shape-rendering="crispEdges"/>
<line x1="850.5" y1="548.0" x2="834.7" y2="537.7" stroke="#222" stroke-width="0.7" stroke-linecap="round" />
<line x1="852.5" y1="546.9" x2="852.5" y2="630.8" stroke="#3a3a3a" stroke-width="1.0" stroke-linecap="round" shape-rendering="crispEdges"/>
<line x1="852.5" y1="546.9" x2="836.6" y2="536.6" stroke="#222" stroke-width="0.7" stroke-linecap="round" />
<line x1="854.5" y1="545.8" x2="854.5" y2="627.1" stroke="#000" stroke-width="1.0" stroke-linecap="round" shape-rendering="crispEdges"/>
<line x1="854.5" y1="545.8" x2="838.6" y2="535.6" stroke="#222" stroke-width="0.7" stroke-linecap="round" />
<line x1="856.5" y1="544.7" x2="856.5" y2="628.7" stroke="#3a3a3a" stroke-width="1.0" stroke-linecap="round" shape-rendering="crispEdges"/>
<line x1="856.5" y1="544.7" x2="840.6" y2="534.5" stroke="#222" stroke-width="0.7" stroke-linecap="round" />
<line x1="858.5" y1="543.5" x2="858.5" y2="625.1" stroke="#3a3a3a" stroke-width="1.0" stroke-linecap="round" shape-rendering="crispEdges"/>
<line x1="858.5" y1="543.5" x2="842.5" y2="533.4" stroke="#222" stroke-width="0.7" stroke-linecap="round" />
<line x1="860.5" y1="542.4" x2="860.5" y2="626.7" stroke="#3a3a3a" stroke-width="1.0" stroke-linecap="round" shape-rendering="crispEdges"/>
<line x1="860.5" y1="542.4" x2="844.5" y2="532.3" stroke="#222" stroke-width="0.7" stroke-linecap="round" />
<line x1="862.5" y1="541.3" x2="862.5" y2="623.0" stroke="#3a3a3a" stroke-width="1.0" stroke-linecap="round" shape-rendering="crispEdges"/>
<line x1="862.5" y1="541.3" x2="846.4" y2="531.2" stroke="#222" stroke-width="0.7" stroke-linecap="round" />
<line x1="864.5" y1="540.2" x2="864.5" y2="624.6" stroke="#3a3a3a" stroke-width="1.0" stroke-linecap="round" shape-rendering="crispEdges"/>
<line x1="864.5" y1="540.2" x2="848.4" y2="530.1" stroke="#222" stroke-width="0.7" stroke-linecap="round" />
<line x1="866.5" y1="539.1" x2="866.5" y2="621.0" stroke="#000" stroke-width="1.0" stroke-linecap="round" shape-rendering="crispEdges"/>
<line x1="866.5" y1="539.1" x2="850.4" y2="529.1" stroke="#222" stroke-width="0.7" stroke-linecap="round" />
<line x1="868.5" y1="538.0" x2="868.5" y2="622.5" stroke="#3a3a3a" stroke-width="1.0" stroke-linecap="round" shape-rendering="crispEdges"/>
<line x1="868.5" y1="538.0" x2="852.3" y2="528.0" stroke="#222" stroke-width="0.7" stroke-linecap="round" />
<line x1="870.5" y1="536.9" x2="870.5" y2="618.9" stroke="#3a3a3a" stroke-width="1.0" stroke-linecap="round" shape-rendering="crispEdges"/>
<line x1="870.5" y1="536.9" x2="854.3" y2="526.9" stroke="#222" stroke-width="0.7" stroke-linecap="round" />
<line x1="872.5" y1="535.7" x2="872.5" y2="620.5" stroke="#3a3a3a" stroke-width="1.0" stroke-linecap="round" shape-rendering="crispEdges"/>
<line x1="872.5" y1="535.7" x2="856.3" y2="525.8" stroke="#222" stroke-width="0.7" stroke-linecap="round" />
<line x1="874.5" y1="534.6" x2="874.5" y2="616.8" stroke="#3a3a3a" stroke-width="1.0" stroke-linecap="round" shape-rendering="crispEdges"/>
<line x1="874.5" y1="534.6" x2="858.2" y2="524.7" stroke="#222" stroke-width="0.7" stroke-linecap="round" />
<line x1="876.5" y1="533.5" x2="876.5" y2="618.4" stroke="#3a3a3a" stroke-width="1.0" stroke-linecap="round" shape-rendering="crispEdges"/>
<line x1="876.5" y1="533.5" x2="860.2" y2="523.6" stroke="#222" stroke-width="0.7" stroke-linecap="round" />
<line x1="878.5" y1="532.4" x2="878.5" y2="614.8" stroke="#000" stroke-width="1.0" stroke-linecap="round" shape-rendering="crispEdges"/>
<line x1="878.5" y1="532.4" x2="862.1" y2="522.6" stroke="#222" stroke-width="0.7" stroke-linecap="round" />
<line x1="880.5" y1="531.3" x2="880.5" y2="616.4" stroke="#3a3a3a" stroke-width="1.0" stroke-linecap="round" shape-rendering="crispEdges"/>
<line x1="880.5" y1="531.3" x2="864.1" y2="521.5" stroke="#222" stroke-width="0.7" stroke-linecap="round" />
<line x1="882.5" y1="530.2" x2="882.5" y2="612.7" stroke="#3a3a3a" stroke-width="1.0" stroke-linecap="round" shape-rendering="crispEdges"/>
<line x1="882.5" y1="530.2" x2="866.1" y2="520.4" stroke="#222" stroke-width="0.7" stroke-linecap="round" />
<line x1="884.5" y1="529.1" x2="884.5" y2="614.3" stroke="#3a3a3a" stroke-width="1.0" stroke-linecap="round" shape-rendering="crispEdges"/>
<line x1="884.5" y1="529.1" x2="868.0" y2="519.3" stroke="#222" stroke-width="0.7" stroke-linecap="round" />
<line x1="886.5" y1="527.9" x2="886.5" y2="610.7" stroke="#3a3a3a" stroke-width="1.0" stroke-linecap="round" shape-rendering="crispEdges"/>
<line x1="886.5" y1="527.9" x2="870.0" y2="518.2" stroke="#222" stroke-width="0.7" stroke-linecap="round" />
<line x1="888.5" y1="526.8" x2="888.5" y2="612.2" stroke="#3a3a3a" stroke-width="1.0" stroke-linecap="round" shape-rendering="crispEdges"/>
<line x1="888.5" y1="526.8" x2="871.9" y2="517.1" stroke="#222" stroke-width="0.7" stroke-linecap="round" />
<line x1="890.5" y1="525.7" x2="890.5" y2="608.6" stroke="#000" stroke-width="1.0" stroke-linecap="round" shape-rendering="crispEdges"/>
<line x1="890.5" y1="525.7" x2="873.9" y2="516.1" stroke="#222" stroke-width="0.7" stroke-linecap="round" />
<line x1="892.5" y1="524.6" x2="892.5" y2="610.2" stroke="#3a3a3a" stroke-width="1.0" stroke-linecap="round" shape-rendering="crispEdges"/>
<line x1="892.5" y1="524.6" x2="875.9" y2="515.0" stroke="#222" stroke-width="0.7" stroke-linecap="round" />
<line x1="894.5" y1="523.5" x2="894.5" y2="606.6" stroke="#3a3a3a" stroke-width="1.0" stroke-linecap="round" shape-rendering="crispEdges"/>
<line x1="894.5" y1="523.5" x2="877.8" y2="513.9" stroke="#222" stroke-width="0.7" stroke-linecap="round" />
<line x1="896.5" y1="522.4" x2="896.5" y2="608.1" stroke="#3a3a3a" stroke-width="1.0" stroke-linecap="round" shape-rendering="crispEdges"/>
<line x1="896.5" y1="522.4" x2="879.8" y2="512.8" stroke="#222" stroke-width="0.7" stroke-linecap="round" />
<line x1="898.5" y1="521.3" x2="898.5" y2="604.5" stroke="#3a3a3a" stroke-width="1.0" stroke-linecap="round" shape-rendering="crispEdges"/>
<line x1="898.5" y1="521.3" x2="881.7" y2="511.7" stroke="#222" stroke-width="0.7" stroke-linecap="round" />
<line x1="900.5" y1="520.2" x2="900.5" y2="606.1" stroke="#3a3a3a" stroke-width="1.0" stroke-linecap="round" shape-rendering="crispEdges"/>
<line x1="900.5" y1="520.2" x2="883.7" y2="510.6" stroke="#222" stroke-width="0.7" stroke-linecap="round" />
<line x1="902.5" y1="519.0" x2="902.5" y2="602.4" stroke="#000" stroke-width="1.0" stroke-linecap="round" shape-rendering="crispEdges"/>
<line x1="902.5" y1="519.0" x2="885.7" y2="509.5" stroke="#222" stroke-width="0.7" stroke-linecap="round" />
<line x1="904.5" y1="517.9" x2="904.5" y2="604.0" stroke="#3a3a3a" stroke-width="1.0" stroke-linecap="round" shape-rendering="crispEdges"/>
<line x1="904.5" y1="517.9" x2="887.6" y2="508.5" stroke="#222" stroke-width="0.7" stroke-linecap="round" />
<line x1="906.5" y1="516.8" x2="906.5" y2="600.4" stroke="#3a3a3a" stroke-width="1.0" stroke-linecap="round" shape-rendering="crispEdges"/>
<line x1="906.5" y1="516.8" x2="889.6" y2="507.4" stroke="#222" stroke-width="0.7" stroke-linecap="round" />
<line x1="908.5" y1="515.7" x2="908.5" y2="601.9" stroke="#3a3a3a" stroke-width="1.0" stroke-linecap="round" shape-rendering="crispEdges"/>
<line x1="908.5" y1="515.7" x2="891.6" y2="506.3" stroke="#222" stroke-width="0.7" stroke-linecap="round" />
<line x1="910.5" y1="514.6" x2="910.5" y2="598.3" stroke="#3a3a3a" stroke-width="1.0" stroke-linecap="round" shape-rendering="crispEdges"/>
<line x1="910.5" y1="514.6" x2="893.5" y2="505.2" stroke="#222" stroke-width="0.7" stroke-linecap="round" />
<line x1="912.5" y1="513.5" x2="912.5" y2="599.9" stroke="#3a3a3a" stroke-width="1.0" stroke-linecap="round" shape-rendering="crispEdges"/>
<line x1="912.5" y1="513.5" x2="895.5" y2="504.1" stroke="#222" stroke-width="0.7" stroke-linecap="round" />
<line x1="914.5" y1="512.4" x2="914.5" y2="596.3" stroke="#000" stroke-width="1.0" stroke-linecap="round" shape-rendering="crispEdges"/>
<line x1="914.5" y1="512.4" x2="897.4" y2="503.0" stroke="#222" stroke-width="0.7" stroke-linecap="round" />
<line x1="916.5" y1="511.2" x2="916.5" y2="597.8" stroke="#3a3a3a" stroke-width="1.0" stroke-linecap="round" shape-rendering="crispEdges"/>
<line x1="916.5" y1="511.2" x2="899.4" y2="502.0" stroke="#222" stroke-width="0.7" stroke-linecap="round" />
<line x1="918.5" y1="510.1" x2="918.5" y2="594.2" stroke="#3a3a3a" stroke-width="1.0" stroke-linecap="round" shape-rendering="crispEdges"/>
<line x1="918.5" y1="510.1" x2="901.4" y2="500.9" stroke="#222" stroke-width="0.7" stroke-linecap="round" />
<line x1="920.5" y1="509.0" x2="920.5" y2="595.8" stroke="#3a3a3a" stroke-width="1.0" stroke-linecap="round" shape-rendering="crispEdges"/>
<line x1="920.5" y1="509.0" x2="903.3" y2="499.8" stroke="#222" stroke-width="0.7" stroke-linecap="round" />
<path d="M722.7 598.0 L723.7 599.0 L724.7 596.9 L725.7 597.9 L726.7 595.8 L727.7 596.8 L728.8 594.7 L729.8 595.7 L730.8 593.6 L731.8 594.6 L732.8 592.5 L733.8 593.5 L734.8 591.4 L735.8 592.4 L736.8 590.3 L737.8 591.2 L738.9 589.2 L739.9 590.1 L740.9 588.1 L741.9 589.0 L742.9 587.0 L743.9 587.9 L744.9 585.8 L745.9 586.8 L746.9 584.7 L747.9 585.7 L748.9 583.6 L749.9 584.5 L751.0 582.5 L752.0 583.4 L753.0 581.4 L754.0 582.3 L755.0 580.3 L756.0 581.2 L757.0 579.2 L758.0 580.1 L759.0 578.1 L760.0 579.0 L761.1 577.0 L762.1 577.9 L763.1 575.9 L764.1 576.7 L765.1 574.8 L766.1 575.6 L767.1 573.7 L768.1 574.5 L769.1 572.6 L770.1 573.4 L771.2 571.5 L772.2 572.3 L773.2 570.4 L774.2 571.2 L775.2 569.3 L776.2 570.0 L777.2 568.2 L778.2 568.9 L779.2 567.1 L780.2 567.8 L781.2 566.0 L782.2 566.7 L783.3 564.9 L784.3 565.6 L785.3 563.7 L786.3 564.5 L787.3 562.6 L788.3 563.3 L789.3 561.5 L790.3 562.2 L791.3 560.4 L792.3 561.1 L793.4 559.3 L794.4 560.0 L795.4 558.2 L796.4 558.9 L797.4 557.1 L798.4 557.8 L799.4 556.0 L800.4 556.7 L801.4 554.9 L802.4 555.5 L803.5 553.8 L804.5 554.4 L805.5 552.7 L806.5 553.3 L807.5 551.6 L808.5 552.2 L809.5 550.5 L810.5 551.1 L811.5 549.4 L812.5 550.0 L813.5 548.3 L814.5 548.8 L815.6 547.2 L816.6 547.7 L817.6 546.1 L818.6 546.6 L819.6 545.0 L820.6 545.5 L821.6 543.9 L822.6 544.4 L823.6 542.8 L824.6 543.3 L825.7 541.7 L826.7 542.2 L827.7 540.5 L828.7 541.0 L829.7 539.4 L830.7 539.9 L831.7 538.3 L832.7 538.8 L833.7 537.2 L834.7 537.7 L835.8 536.1 L836.8 536.6 L837.8 535.0 L838.8 535.5 L839.8 533.9 L840.8 534.3 L841.8 532.8 L842.8 533.2 L843.8 531.7 L844.8 532.1 L845.9 530.6 L846.9 531.0 L847.9 529.5 L848.9 529.9 L849.9 528.4 L850.9 528.8 L851.9 527.3 L852.9 527.7 L853.9 526.2 L854.9 526.5 L855.9 525.1 L856.9 525.4 L858.0 524.0 L859.0 524.3 L860.0 522.9 L861.0 523.2 L862.0 521.8 L863.0 522.1 L864.0 520.7 L865.0 521.0 L866.0 519.6 L867.0 519.8 L868.1 518.4 L869.1 518.7 L870.1 517.3 L871.1 517.6 L872.1 516.2 L873.1 516.5 L874.1 515.1 L875.1 515.4 L876.1 514.0 L877.1 514.3 L878.2 512.9 L879.2 513.1 L880.2 511.8 L881.2 512.0 L882.2 510.7 L883.2 510.9 L884.2 509.6 L885.2 509.8 L886.2 508.5 L887.2 508.7 L888.2 507.4 L889.2 507.6 L890.3 506.3 L891.3 506.5 L892.3 505.2 L893.3 505.3 L894.3 504.1 L895.3 504.2 L896.3 503.0 L897.3 503.1 L898.3 501.9 L899.3 502.0 L900.4 500.8 L901.4 500.9 L902.4 499.7 L903.4 499.8 L904.4 498.6 L905.4 498.6" stroke="#111" stroke-width="1.0" fill="#111" stroke-linecap="round" stroke-linejoin="round" />
<path d="M722.7 599.6 L904.4 499.2" stroke="#111" stroke-width="1.8" fill="none" stroke-linecap="round" stroke-linejoin="round" />
<line x1="736.3" y1="693.1" x2="921.6" y2="595.7" stroke="#444" stroke-width="0.7" stroke-linecap="round" />
<path d="M719.5 610.4 C709.6 611.0 707.6 624.6 719.5 623.4" stroke="#1a1a1a" stroke-width="6.6" fill="none" stroke-linecap="round" stroke-linejoin="round"/>
<path d="M719.5 610.4 C709.6 611.0 707.6 624.6 719.5 623.4" stroke="#fff" stroke-width="4.0" fill="none" stroke-linecap="round" stroke-linejoin="round"/>
<path d="M719.5 632.9 C709.6 633.5 707.6 647.1 719.5 645.9" stroke="#1a1a1a" stroke-width="6.6" fill="none" stroke-linecap="round" stroke-linejoin="round"/>
<path d="M719.5 632.9 C709.6 633.5 707.6 647.1 719.5 645.9" stroke="#fff" stroke-width="4.0" fill="none" stroke-linecap="round" stroke-linejoin="round"/>
<path d="M719.5 655.4 C709.6 656.0 707.6 669.6 719.5 668.4" stroke="#1a1a1a" stroke-width="6.6" fill="none" stroke-linecap="round" stroke-linejoin="round"/>
<path d="M719.5 655.4 C709.6 656.0 707.6 669.6 719.5 668.4" stroke="#fff" stroke-width="4.0" fill="none" stroke-linecap="round" stroke-linejoin="round"/>
<path d="M719.5 677.9 C709.6 678.5 707.6 692.1 719.5 690.9" stroke="#1a1a1a" stroke-width="6.6" fill="none" stroke-linecap="round" stroke-linejoin="round"/>
<path d="M719.5 677.9 C709.6 678.5 707.6 692.1 719.5 690.9" stroke="#fff" stroke-width="4.0" fill="none" stroke-linecap="round" stroke-linejoin="round"/>
<path d="M729.6 576.4 C722 588 719.6 598 719.6 612 L719.6 694 C719.6 700 724 701.4 731 699" stroke="#1a1a1a" stroke-width="4.0" fill="none" stroke-linecap="round" stroke-linejoin="round"/>
<path d="M729.6 576.4 C722 588 719.6 598 719.6 612 L719.6 694 C719.6 700 724 701.4 731 699" stroke="#fff" stroke-width="2.0" fill="none" stroke-linecap="round" stroke-linejoin="round"/>
<path d="M729.9 575.6 C727.6 579 726 582 725 585" stroke="#111" stroke-width="2.2" fill="none" stroke-linecap="round" stroke-linejoin="round" />
<path d="M733.6 616.4 L726.2 620.4 C720 624.0 720.4 632.6 726.6 629.4 L733.8 625.8" stroke="#1a1a1a" stroke-width="6.2" fill="none" stroke-linecap="round" stroke-linejoin="round"/>
<path d="M733.6 616.4 L726.2 620.4 C720 624.0 720.4 632.6 726.6 629.4 L733.8 625.8" stroke="#fff" stroke-width="3.8" fill="none" stroke-linecap="round" stroke-linejoin="round"/>
<path d="M733.6 638.9 L726.2 642.9 C720 646.5 720.4 655.1 726.6 651.9 L733.8 648.3" stroke="#1a1a1a" stroke-width="6.2" fill="none" stroke-linecap="round" stroke-linejoin="round"/>
<path d="M733.6 638.9 L726.2 642.9 C720 646.5 720.4 655.1 726.6 651.9 L733.8 648.3" stroke="#fff" stroke-width="3.8" fill="none" stroke-linecap="round" stroke-linejoin="round"/>
<path d="M733.6 661.4 L726.2 665.4 C720 669.0 720.4 677.6 726.6 674.4 L733.8 670.8" stroke="#1a1a1a" stroke-width="6.2" fill="none" stroke-linecap="round" stroke-linejoin="round"/>
<path d="M733.6 661.4 L726.2 665.4 C720 669.0 720.4 677.6 726.6 674.4 L733.8 670.8" stroke="#fff" stroke-width="3.8" fill="none" stroke-linecap="round" stroke-linejoin="round"/>
<path d="M733.6 683.9 L726.2 687.9 C720 691.5 720.4 700.1 726.6 696.9 L733.8 693.3" stroke="#1a1a1a" stroke-width="6.2" fill="none" stroke-linecap="round" stroke-linejoin="round"/>
<path d="M733.6 683.9 L726.2 687.9 C720 691.5 720.4 700.1 726.6 696.9 L733.8 693.3" stroke="#fff" stroke-width="3.8" fill="none" stroke-linecap="round" stroke-linejoin="round"/>
</g>
<g id="evapR">
<path d="M940.2 512 L938.6 560 C938 572 936 578 933.6 581.6" stroke="#1a1a1a" stroke-width="1.3" fill="none" stroke-linecap="round" stroke-linejoin="round" />
<path d="M935.5 510.8 L934.5 560" stroke="#1a1a1a" stroke-width="1.0" fill="none" stroke-linecap="round" stroke-linejoin="round" />
<path d="M934.5 561 L934.3 574 C934.2 578 933 580.6 931 581.8 L927.4 581.4" stroke="#1a1a1a" stroke-width="1.0" fill="none" stroke-linecap="round" stroke-linejoin="round" />
<path d="M932.6 560.2 L938.8 560.2" stroke="#111" stroke-width="2.0" fill="none" stroke-linecap="round" stroke-linejoin="round" />
<line x1="922.2" y1="508.6" x2="922.2" y2="595.6" stroke="#222" stroke-width="1.0" stroke-linecap="round" />
<path d="M923.4 522.1 C932.6 521.5 933 533.1 923.4 533.1" stroke="#1a1a1a" stroke-width="6.8" fill="none" stroke-linecap="round" stroke-linejoin="round"/>
<path d="M923.4 522.1 C932.6 521.5 933 533.1 923.4 533.1" stroke="#fff" stroke-width="4.2" fill="none" stroke-linecap="round" stroke-linejoin="round"/>
<path d="M923.4 544.6 C932.6 544.0 933 555.6 923.4 555.6" stroke="#1a1a1a" stroke-width="6.8" fill="none" stroke-linecap="round" stroke-linejoin="round"/>
<path d="M923.4 544.6 C932.6 544.0 933 555.6 923.4 555.6" stroke="#fff" stroke-width="4.2" fill="none" stroke-linecap="round" stroke-linejoin="round"/>
<path d="M923.4 566.9 C932.6 566.3 933 577.9 923.4 577.9" stroke="#1a1a1a" stroke-width="6.8" fill="none" stroke-linecap="round" stroke-linejoin="round"/>
<path d="M923.4 566.9 C932.6 566.3 933 577.9 923.4 577.9" stroke="#fff" stroke-width="4.2" fill="none" stroke-linecap="round" stroke-linejoin="round"/>
<path d="M923.6 584.2 C929 584 929.4 590.6 923.6 590.6" stroke="#1a1a1a" stroke-width="5.2" fill="none" stroke-linecap="round" stroke-linejoin="round"/>
<path d="M923.6 584.2 C929 584 929.4 590.6 923.6 590.6" stroke="#fff" stroke-width="2.8" fill="none" stroke-linecap="round" stroke-linejoin="round"/>
<path d="M912.3 490.8 L912.6 498.6 C912.8 500.6 913.6 501.2 914.8 501.6 L923 505.2 L929 503 L929 488.5 C928.6 481.6 914 481 912.3 490.8 Z" stroke="#1a1a1a" stroke-width="0.9" fill="#fff" stroke-linecap="round" stroke-linejoin="round" />
<path d="M913.9 491.1 C915.6 487 920.4 485.6 923.1 487.4 L923.1 505" stroke="#1a1a1a" stroke-width="0.9" fill="none" stroke-linecap="round" stroke-linejoin="round" />
<ellipse cx="918.6" cy="494.6" rx="4" ry="2" transform="rotate(14 918.6 494.6)" stroke="#1a1a1a" stroke-width="0.8" fill="#fff"/>
<path d="M914.8 496.8 C917 498.8 920.6 499.2 922.6 498.2" stroke="#555" stroke-width="0.8" fill="none" stroke-linecap="round" stroke-linejoin="round" />
<path d="M856.2 486.6 C853.6 486.6 853.8 484.2 856.4 483.8 L876.8 476.6 C879 476 880.4 476.2 882.6 477" stroke="#1a1a1a" stroke-width="1.6" fill="none" stroke-linecap="round" stroke-linejoin="round" />
<path d="M882.6 477 L912.4 488.8" stroke="#111" stroke-width="2.6" fill="none" stroke-linecap="round" stroke-linejoin="round" />
<path d="M913.3 489.4 C910.4 486.6 908.6 484 908.8 481.6 C909 476.8 913 474 918.4 474.8 L962.6 485 C967.4 486.2 969.4 490 968 494.4 L963.6 502" stroke="#1a1a1a" stroke-width="3.0" fill="none" stroke-linecap="butt" stroke-linejoin="round"/>
<path d="M913.3 489.4 C910.4 486.6 908.6 484 908.8 481.6 C909 476.8 913 474 918.4 474.8 L962.6 485 C967.4 486.2 969.4 490 968 494.4 L963.6 502" stroke="#fff" stroke-width="1.0" fill="none" stroke-linecap="butt" stroke-linejoin="round"/>
<line x1="923.1" y1="476.4" x2="924.9" y2="478.4" stroke="#333" stroke-width="0.7" stroke-linecap="round" />
<line x1="926.2" y1="477.1" x2="928.0" y2="479.1" stroke="#333" stroke-width="0.7" stroke-linecap="round" />
<line x1="929.3" y1="477.8" x2="931.1" y2="479.8" stroke="#333" stroke-width="0.7" stroke-linecap="round" />
<line x1="932.4" y1="478.5" x2="934.2" y2="480.5" stroke="#333" stroke-width="0.7" stroke-linecap="round" />
<line x1="935.5" y1="479.3" x2="937.3" y2="481.3" stroke="#333" stroke-width="0.7" stroke-linecap="round" />
<line x1="938.6" y1="480.0" x2="940.4" y2="482.0" stroke="#333" stroke-width="0.7" stroke-linecap="round" />
<line x1="941.7" y1="480.7" x2="943.5" y2="482.7" stroke="#333" stroke-width="0.7" stroke-linecap="round" />
<line x1="944.8" y1="481.4" x2="946.6" y2="483.4" stroke="#333" stroke-width="0.7" stroke-linecap="round" />
<line x1="947.9" y1="482.1" x2="949.7" y2="484.1" stroke="#333" stroke-width="0.7" stroke-linecap="round" />
<line x1="951.0" y1="482.8" x2="952.8" y2="484.8" stroke="#333" stroke-width="0.7" stroke-linecap="round" />
<line x1="954.1" y1="483.5" x2="955.9" y2="485.5" stroke="#333" stroke-width="0.7" stroke-linecap="round" />
<line x1="957.2" y1="484.3" x2="959.0" y2="486.3" stroke="#333" stroke-width="0.7" stroke-linecap="round" />
<path d="M963.4 502.4 L958.6 509.8" stroke="#1a1a1a" stroke-width="4.6" fill="none" stroke-linecap="butt" stroke-linejoin="round"/>
<path d="M963.4 502.4 L958.6 509.8" stroke="#fff" stroke-width="2.8" fill="none" stroke-linecap="butt" stroke-linejoin="round"/>
<path d="M957.2 508.6 L960.6 511" stroke="#111" stroke-width="1.6" fill="none" stroke-linecap="round" stroke-linejoin="round" />
<path d="M958.2 510.6 C955.6 514.6 953 517.2 949.2 517.4 C947 517.4 945.8 516.2 943.4 514.4 L932 505.8 C929.6 504 927 504.4 925.4 506 L922.8 508.4" stroke="#1a1a1a" stroke-width="3.0" fill="none" stroke-linecap="butt" stroke-linejoin="round"/>
<path d="M958.2 510.6 C955.6 514.6 953 517.2 949.2 517.4 C947 517.4 945.8 516.2 943.4 514.4 L932 505.8 C929.6 504 927 504.4 925.4 506 L922.8 508.4" stroke="#fff" stroke-width="1.0" fill="none" stroke-linecap="butt" stroke-linejoin="round"/>
</g>
<g id="c13">
<circle cx="1014.5" cy="632.4" r="48.4" stroke="#222" stroke-width="0.8" fill="none"/>
<path d="M960 610.4 L973.6 618.4" stroke="#333" stroke-width="6.2" fill="none" stroke-linecap="round" stroke-linejoin="round"/>
<path d="M960 610.4 L973.6 618.4" stroke="#fff" stroke-width="4.8" fill="none" stroke-linecap="round" stroke-linejoin="round"/>
<ellipse cx="974.2" cy="618.8" rx="2.2" ry="3" transform="rotate(-30 974.2 618.8)" stroke="#333" stroke-width="0.7" fill="#fff"/>
<path d="M980 622 L988 626.6" stroke="#333" stroke-width="5.6" fill="none" stroke-linecap="round" stroke-linejoin="round"/>
<path d="M980 622 L988 626.6" stroke="#fff" stroke-width="4.2" fill="none" stroke-linecap="round" stroke-linejoin="round"/>
<path d="M986.6 625.6 L990.6 624.4 L989.8 630.6 L986.4 628.6 Z" stroke="#111" stroke-width="0.8" fill="#111" stroke-linecap="round" stroke-linejoin="round" />
<path d="M1003 631.4 L1031.3 647.6 C1036 650.2 1040.6 648.6 1040.6 643.4 L1040.6 609.6 C1040.6 606.6 1048.6 606.6 1048.6 609.6 L1048.6 650 C1048.6 659.6 1042 662.4 1035 658 L1000.9 640.7 Z" stroke="#222" stroke-width="0.9" fill="#fff" stroke-linecap="round" stroke-linejoin="round" />
<ellipse cx="1044.6" cy="609" rx="4" ry="2" stroke="#222" stroke-width="0.8" fill="#fff"/>
<path d="M1000 634.4 L1040.4 656.6" stroke="#222" stroke-width="1.5" fill="none" stroke-linecap="round" stroke-linejoin="round" />
<path d="M1001.4 632.6 L1041 655" stroke="#444" stroke-width="0.7" fill="none" stroke-linecap="round" stroke-linejoin="round" />
<path d="M1051.9 621.4 L1051.9 652 C1051.8 656 1048 659.6 1044.6 660.2 C1042.6 660.4 1041.4 658.6 1040.6 657" stroke="#444" stroke-width="1.3" fill="none" stroke-linecap="round" stroke-linejoin="round" />
<path d="M990.4 625 C993 623.6 996.6 624.4 998.6 626 L1005 629 C1006.6 630.4 1006 632 1004.6 632.6 L1000.8 634 L1000.8 639.6 C999 641.6 995.6 640.4 993.2 638.2 C990.4 635 989 630 990.4 625 Z" stroke="#222" stroke-width="0.9" fill="#fff" stroke-linecap="round" stroke-linejoin="round" />
<path d="M992.6 625.2 C991.0 629.0 991.6 634.0 993.6 637.4" stroke="#333" stroke-width="0.8" fill="none" stroke-linecap="round" stroke-linejoin="round" />
<path d="M994.7 625.7 C993.1 629.5 993.7 634.6 995.7 638.1" stroke="#333" stroke-width="0.8" fill="none" stroke-linecap="round" stroke-linejoin="round" />
<path d="M996.8 626.2 C995.2 630.0 995.8 635.2 997.8 638.8" stroke="#333" stroke-width="0.8" fill="none" stroke-linecap="round" stroke-linejoin="round" />
<path d="M998.9 626.7 C997.3 630.5 997.9 635.8 999.9 639.5" stroke="#333" stroke-width="0.8" fill="none" stroke-linecap="round" stroke-linejoin="round" />
<path d="M997 626 L1003.6 629.2" stroke="#111" stroke-width="2.0" fill="none" stroke-linecap="round" stroke-linejoin="round" />
</g>
<g id="p18">
<path d="M887.6 380.7 L889.6 379.3 L891.6 380.4 C892 378 894 376.2 896.3 376.1 C899.6 376.2 902 378.6 905 380.4 C908 382.2 910.4 383.6 912.4 383.4 C914.6 383.2 916 381.6 918.4 380.7 L921.3 382.4 L921.3 399.9 L913.9 404.1 C914.6 406 913.8 408.6 910.7 409.6 L909.3 409.6 L909.6 417.3 L890.7 428.1 L872.4 418.1 L872.4 414.7 L874.1 413.3 C878 411.4 880 410.4 881.4 409 C886 404.6 888 399 887.9 392 Z" stroke="#1a1a1a" stroke-width="1.6" fill="#fff" stroke-linecap="round" stroke-linejoin="round" />
<path d="M889.6 381.4 L905.6 391 L910.7 388.4 L918.6 383.8" stroke="#1a1a1a" stroke-width="0.8" fill="none" stroke-linecap="round" stroke-linejoin="round" />
<line x1="910.7" y1="388.4" x2="910.7" y2="409.2" stroke="#1a1a1a" stroke-width="0.9" stroke-linecap="round" />
<path d="M905.7 391.2 L905.9 404 C905.6 412 900 420 890.7 424.7" stroke="#777" stroke-width="0.8" fill="none" stroke-linecap="round" stroke-linejoin="round" />
<path d="M873.2 415.2 L890.7 424.7 L890.7 427.8" stroke="#1a1a1a" stroke-width="0.8" fill="none" stroke-linecap="round" stroke-linejoin="round" />
<ellipse cx="905" cy="385.9" rx="3.8" ry="2.2" transform="rotate(22 905 385.9)" stroke="#1a1a1a" stroke-width="0.8" fill="none"/>
<circle cx="894.1" cy="380.8" r="1.2" stroke="#1a1a1a" stroke-width="0.7" fill="none"/>
</g>
<g id="p20">
<path d="M661.4 614.7 L682.3 596.3 C683 595.7 684 595.8 684.8 596.2 L697.4 603.6 C700 605.4 700.8 608 700.3 610 C700 612 699.8 613.6 699.1 614.7 L688.9 624.4 L688.9 632.4 L685.4 634.4 L681.4 632.4 L681.1 639.9 L687.1 643.3 L678 649.3 L671.4 653.3 L669.4 652.4 L669.1 649.9 L659.1 644.7 L659.4 620.4 L661.4 618.1 Z" stroke="#1a1a1a" stroke-width="1.3" fill="#fff" stroke-linecap="round" stroke-linejoin="round" />
<path d="M661.4 614.7 L673.4 621 L695.1 604.1" stroke="#1a1a1a" stroke-width="0.8" fill="none" stroke-linecap="round" stroke-linejoin="round" />
<path d="M661.6 618.4 L671.1 623.9" stroke="#1a1a1a" stroke-width="0.8" fill="none" stroke-linecap="round" stroke-linejoin="round" />
<path d="M673.4 621 C671.4 623.4 669.8 625 669.4 627.6 L669.3 650" stroke="#888" stroke-width="0.8" fill="none" stroke-linecap="round" stroke-linejoin="round" />
<path d="M675.1 621.6 C673 624 671.6 626 671.4 628.4 L671.4 653" stroke="#666" stroke-width="0.8" fill="none" stroke-linecap="round" stroke-linejoin="round" />
<path d="M675.1 621.6 L696.2 605.4" stroke="#1a1a1a" stroke-width="0.8" fill="none" stroke-linecap="round" stroke-linejoin="round" />
<path d="M679.1 621.6 L695.4 608 C696.4 607.2 697.6 607.4 698.2 608.6 C699 610 698.9 612.4 698.2 613.8 L679.7 627.3" stroke="#1a1a1a" stroke-width="0.8" fill="none" stroke-linecap="round" stroke-linejoin="round" />
<path d="M693.6 609.4 L698 612.4" stroke="#555" stroke-width="0.7" fill="none" stroke-linecap="round" stroke-linejoin="round" />
<path d="M679.1 621.6 C677.6 623.6 677.4 625.4 677.4 627.3 L677.4 649.2" stroke="#1a1a1a" stroke-width="0.9" fill="none" stroke-linecap="round" stroke-linejoin="round" />
<path d="M678.9 628 L678.9 648.6" stroke="#777" stroke-width="0.8" fill="none" stroke-linecap="round" stroke-linejoin="round" />
<path d="M680.4 632.4 L680.4 640" stroke="#999" stroke-width="1.6" fill="none" stroke-linecap="round" stroke-linejoin="round" />
<path d="M681.4 632.4 C680.8 629.6 683 627.4 685 628.6 C686.6 629.6 686.6 632 685.6 634" stroke="#1a1a1a" stroke-width="0.9" fill="none" stroke-linecap="round" stroke-linejoin="round" />
<path d="M681.6 641.6 L684.6 643.4 L682.2 644.2" stroke="#444" stroke-width="0.7" fill="none" stroke-linecap="round" stroke-linejoin="round" />
</g>
<g id="p21">
<path d="M759.1 467 C759.4 460.6 772.2 459.6 772.3 466 L772.3 478 C770 481 765 483 763.4 482.6 C761.4 482.4 759.4 481 759.1 479.6 Z" stroke="#1a1a1a" stroke-width="1.0" fill="#fff" stroke-linecap="round" stroke-linejoin="round" />
<ellipse cx="766" cy="465.6" rx="4" ry="2.6" transform="rotate(-12 766 465.6)" stroke="#333" stroke-width="0.8" fill="none"/>
<ellipse cx="766.2" cy="465.4" rx="1.6" ry="0.9" transform="rotate(-12 766.2 465.4)" stroke="#555" stroke-width="0.7" fill="none"/>
<path d="M759.6 470 C763 471.6 768 470.6 772 467.6" stroke="#444" stroke-width="0.8" fill="none" stroke-linecap="round" stroke-linejoin="round" />
<path d="M760 475 C764 476.6 768 475 772.2 472" stroke="#333" stroke-width="0.9" fill="none" stroke-linecap="round" stroke-linejoin="round" />
<path d="M760.4 477.4 C764 478.6 768 477.4 772.2 474.4" stroke="#333" stroke-width="0.9" fill="none" stroke-linecap="round" stroke-linejoin="round" />
<path d="M759.4 466.9 L746 467.1" stroke="#111" stroke-width="2.4" fill="none" stroke-linecap="round" stroke-linejoin="round" />
<path d="M748 467 C742 467.6 738 466.4 732.6 465.2 M749 467.6 C744 469.4 739 470.6 733.6 471.6" stroke="#111" stroke-width="1.5" fill="none" stroke-linecap="round" stroke-linejoin="round" />
<path d="M732.8 465.2 L730.4 464 L729.6 465.8 L731.4 467 Z M733.6 471.6 L731.6 470.6 L730.8 472.4 L732.6 473.2 Z" stroke="#111" stroke-width="0.9" fill="#fff" stroke-linecap="round" stroke-linejoin="round" />
</g>
<g id="p16">
<path d="M677.3 692.5 C673.6 700 672 706 671.9 711.9 L672.2 722.8 L676.3 721 C675.4 716 675.4 714 675.6 711.9 C676.4 704 679 697 681.7 691.4 Z" stroke="#1a1a1a" stroke-width="1.2" fill="#fff" stroke-linecap="round" stroke-linejoin="round" />
<path d="M671.4 723.4 L677.8 720.4 L678 730.5 L671.4 733.7 Z" stroke="#1a1a1a" stroke-width="1.3" fill="#fff" stroke-linecap="round" stroke-linejoin="round" />
<path d="M672.8 725 L676.6 723.4 L676.7 729.4 L672.8 731.2 Z" stroke="#333" stroke-width="0.8" fill="none" stroke-linecap="round" stroke-linejoin="round" />
</g>
<g id="p4">
<path d="M310.4 819.6 L323.1 813 L348.4 866 L336 872 Z" stroke="#1a1a1a" stroke-width="1.1" fill="#fff" stroke-linecap="round" stroke-linejoin="round" />
<path d="M310.4 819.6 L309.6 805 L323.1 813" stroke="#1a1a1a" stroke-width="1.1" fill="#fff" stroke-linecap="round" stroke-linejoin="round" />
<path d="M310.6 819.8 C314 820.6 320 817.6 323 813.2" stroke="#1a1a1a" stroke-width="0.9" fill="none" stroke-linecap="round" stroke-linejoin="round" />
<path d="M309.8 805.4 C307.6 800.6 303 797.4 299.4 797.4 L298.8 795.6 C303.6 795 309 798.4 311.4 803.8" stroke="#1a1a1a" stroke-width="1.1" fill="#fff" stroke-linecap="round" stroke-linejoin="round" />
<path d="M336 872 L348.6 878.6 L348.4 866" stroke="#1a1a1a" stroke-width="1.1" fill="#fff" stroke-linecap="round" stroke-linejoin="round" />
<path d="M336.2 872 C339.6 872.6 346 869.6 348.2 866.4" stroke="#1a1a1a" stroke-width="0.9" fill="none" stroke-linecap="round" stroke-linejoin="round" />
<path d="M347.4 878 C348.6 883 347.6 887.6 345.2 891.6 L347 892.6 C350.2 888.4 351 883.6 349.8 878.6" stroke="#1a1a1a" stroke-width="1.1" fill="#fff" stroke-linecap="round" stroke-linejoin="round" />
</g>
<g id="pan" transform="translate(0,0)">
<path d="M230.1 1102.4 C243 1089 258 1077 271.2 1068.2 C285 1060 300 1053.4 313.1 1048.1 L348.7 1034.9 L358 1034.4 L393 1054.3 L393 1062 C393.4 1068 392.6 1072 390.6 1076 C385 1085 377 1092.6 367.4 1099.3 C352 1111 336 1121 320.8 1128.7 C305 1135.6 290 1140 275.1 1141.5 L266.5 1141.1 L231.6 1122.5 Z" stroke="#1a1a1a" stroke-width="1.3" fill="#fff" stroke-linecap="round" stroke-linejoin="round" />
<path d="M231.8 1103 C244 1090.6 259 1078.6 272 1069.8 C286 1061.6 300 1055.2 313.8 1049.8 L348.9 1036.6 L357.6 1036.2 L391.4 1055.4" stroke="#1a1a1a" stroke-width="0.7" fill="none" stroke-linecap="round" stroke-linejoin="round" />
<path d="M392.6 1062 C386 1071 372 1084 344.1 1094.6 C330 1102.6 315 1110 300.7 1116.3 C292 1120.6 283 1124.6 274.3 1127.2 L265.8 1127.2 L230.1 1108.6 L230.1 1102.4" stroke="#1a1a1a" stroke-width="1.0" fill="none" stroke-linecap="round" stroke-linejoin="round" />
<path d="M391.6 1060.6 C385 1069.6 371 1082.4 343.4 1093 C329 1101 314 1108.4 300 1114.7 C291 1119 282.4 1123 273.9 1125.6 L266.2 1125.6 L231.6 1107.2" stroke="#333" stroke-width="0.7" fill="none" stroke-linecap="round" stroke-linejoin="round" />
<path d="M240.2 1110.1 L348.7 1049.6 L358 1049.6 L384.4 1065.1" stroke="#1a1a1a" stroke-width="0.7" fill="none" stroke-linecap="round" stroke-linejoin="round" />
<path d="M348.7 1035.4 L348.7 1049.4 M358 1035 L358 1049.4" stroke="#888" stroke-width="0.7" fill="none" stroke-linecap="round" stroke-linejoin="round" />
<path d="M265.8 1127.4 L266.5 1140.8 M274.3 1127.4 L275.1 1141.2" stroke="#666" stroke-width="0.7" fill="none" stroke-linecap="round" stroke-linejoin="round" />
<path d="M345.2 1093.2 C342 1083 328 1077 311.5 1077.1 C292 1077.4 277.6 1086 277.4 1097 C277.4 1106 284 1113.4 296 1117.4" stroke="#1a1a1a" stroke-width="0.8" fill="none" stroke-linecap="round" stroke-linejoin="round" />
<path d="M343 1094.2 C340 1084.6 327 1079 311.5 1079.1 C293.6 1079.4 279.6 1087.4 279.4 1097 C279.4 1105.4 286.4 1112.2 299 1116" stroke="#333" stroke-width="0.7" fill="none" stroke-linecap="round" stroke-linejoin="round" />
<ellipse cx="311.5" cy="1093.8" rx="6.2" ry="4.2" stroke="#1a1a1a" stroke-width="0.8" fill="none"/>
</g>
<g id="nut27" stroke-linejoin="round">
<path d="M303.2 1018.6 L306.6 1012.8 L316.4 1012.2 L320.4 1017.4 L320.2 1022.4 L316.6 1026.8 L307.2 1027.4 L303.4 1023 Z" stroke="#1a1a1a" stroke-width="1.0" fill="#fff" stroke-linecap="round" stroke-linejoin="round" />
<path d="M303.2 1018.6 L307 1022.6 L316.6 1022 L320.4 1017.4 M307 1022.6 L307.2 1027.2 M316.6 1022 L316.6 1026.6" stroke="#1a1a1a" stroke-width="0.8" fill="none" stroke-linecap="round" stroke-linejoin="round" />
<ellipse cx="311.6" cy="1017" rx="3.4" ry="2.2" stroke="#1a1a1a" stroke-width="0.8" fill="none"/>
<ellipse cx="311.6" cy="1017.2" rx="1.7" ry="1.1" stroke="#333" stroke-width="0.9" fill="#999"/>
</g>
<g id="comp" transform="translate(0,0)">
<path d="M359.7 1238.2 L365.6 1242.1 L370.2 1239.5 L385.2 1249.3 L369.5 1259.1 L368.9 1262.3 L362.4 1257.1 L353.2 1261.7 L356.5 1255.2 Z" stroke="#1a1a1a" stroke-width="1.2" fill="#fff" stroke-linecap="round" stroke-linejoin="round" />
<path d="M369.5 1259.1 L363 1254.6 L356.5 1255.2" stroke="#1a1a1a" stroke-width="0.8" fill="none" stroke-linecap="round" stroke-linejoin="round" />
<ellipse cx="371.5" cy="1248.6" rx="4.2" ry="2.5" stroke="#1a1a1a" stroke-width="0.8" fill="none"/>
<path d="M242.8 1268.9 L254.6 1262.4 L274.2 1272.1 L284 1276 L306.2 1286.5 L312.9 1282.6 L312.7 1291.1 L296.4 1300.2 L280.7 1291.1 L281.4 1287.2 L267.7 1276.7 L263.1 1275.4 L258.5 1278 Z" stroke="#1a1a1a" stroke-width="1.2" fill="#fff" stroke-linecap="round" stroke-linejoin="round" />
<ellipse cx="256.6" cy="1268.9" rx="3.9" ry="2.4" stroke="#1a1a1a" stroke-width="0.8" fill="none"/>
<ellipse cx="296.4" cy="1291.1" rx="4.2" ry="2.5" stroke="#1a1a1a" stroke-width="0.8" fill="none"/>
<path d="M267.7 1276.7 L274.2 1272.1 M306.2 1286.5 L313.4 1282.6 M312.7 1291.1 L311.6 1293.6 L310.4 1292.4" stroke="#1a1a1a" stroke-width="0.8" fill="none" stroke-linecap="round" stroke-linejoin="round" />
<path d="M279.4 1282.6 L289.8 1277.4 M281.6 1284.6 L292.4 1279" stroke="#555" stroke-width="0.7" fill="none" stroke-linecap="round" stroke-linejoin="round" />
<path d="M263.7 1213.4 L263.7 1262 C270 1272 290 1283 313.4 1282.6 C336 1281 352 1268 356.5 1252.6 C358.6 1246 359.1 1240 359.1 1236.9 L359.1 1205 Z" stroke="#1a1a1a" stroke-width="1.0" fill="#fff" stroke-linecap="round" stroke-linejoin="round" />
<path d="M263.7 1213.4 C261.6 1206 261.2 1199 261.8 1192.5 C262.6 1186 264 1180 266.3 1174.2 C269.6 1166.6 274.6 1160.4 280.7 1155.9 C286 1152 291.6 1149.2 297.7 1147.4 C302.4 1146.4 307 1146 312.1 1146.1 C318 1146.2 323.6 1146.8 329 1148.1 C335.4 1150 341 1153 346 1157.2 C350.6 1161.4 354 1166.6 356.5 1172.9 C358.8 1178.6 361.2 1184.6 361.7 1191.2 C362 1197 361.4 1201 360.4 1205.5 C357 1218 338 1231.7 312.1 1231.7 C286 1231.7 267 1222 263.7 1213.4 Z" stroke="#1a1a1a" stroke-width="1.1" fill="#fff" stroke-linecap="round" stroke-linejoin="round" />
<path d="M262.8 1197 C266 1215 287 1229.4 312.1 1229.4 C337 1229.4 357.6 1216 360.6 1200" stroke="#1a1a1a" stroke-width="0.7" fill="none" stroke-linecap="round" stroke-linejoin="round" />
<path d="M263.9 1214.6 C270 1227 290 1236.4 312.1 1236.2 C334 1236 354 1226.6 359.2 1214.6" stroke="#1a1a1a" stroke-width="0.8" fill="none" stroke-linecap="round" stroke-linejoin="round" />
<ellipse cx="312.1" cy="1165.4" rx="4.6" ry="2.1" stroke="#1a1a1a" stroke-width="0.8" fill="#fff"/>
<path d="M309.6 1165 L309.6 1150.6 C309.6 1148 314.7 1148 314.7 1150.6 L314.7 1165" stroke="#1a1a1a" stroke-width="0.8" fill="#fff" stroke-linecap="round" stroke-linejoin="round" />
<path d="M310.4 1165.8 C311.4 1166.6 313.4 1166.6 314.2 1165.8" stroke="#666" stroke-width="0.7" fill="none" stroke-linecap="round" stroke-linejoin="round" />
<path d="M351.2 1164 C354 1162.6 357 1161.4 360.4 1161.4 C365 1161.6 369.6 1164 372.1 1167 L369.6 1171.6 C366.6 1168.6 363.6 1166.8 360.6 1166.8 C358 1166.8 355.6 1168 353.6 1170.6 Z" stroke="#1a1a1a" stroke-width="1.0" fill="#fff" stroke-linecap="round" stroke-linejoin="round" />
<path d="M349.9 1164.4 L352.6 1171.2" stroke="#1a1a1a" stroke-width="1.6" fill="none" stroke-linecap="round" stroke-linejoin="round" />
<path d="M352.6 1171 C354.6 1178 358 1186 360.8 1192" stroke="#1a1a1a" stroke-width="0.8" fill="none" stroke-linecap="round" stroke-linejoin="round" />
<path d="M356.8 1224.6 L374.6 1224.6 L374.6 1228.4 L356.8 1228.4 Z" stroke="#1a1a1a" stroke-width="0.9" fill="#fff" stroke-linecap="round" stroke-linejoin="round" />
<path d="M359.1 1228.6 L359.1 1237" stroke="#1a1a1a" stroke-width="0.9" fill="none" stroke-linecap="round" stroke-linejoin="round" />
<path d="M265 1218.6 L252 1225.1 L252 1231 L263.7 1238 L263.7 1250.6 L252 1257.8 L254.4 1260.4 L278.8 1271.6 L292.5 1261.7 L292.5 1238.2 L265 1221.2 Z" stroke="#fff" stroke-width="0.6" fill="#fff" stroke-linecap="round" stroke-linejoin="round" />
<path d="M265 1218.6 L252 1225.1 L252 1231 L278.8 1246.7 L278.8 1270.8" stroke="#1a1a1a" stroke-width="1.5" fill="none" stroke-linecap="round" stroke-linejoin="round" />
<path d="M263.7 1238.2 L263.7 1250.6 L252 1257.8 L278 1271.2" stroke="#1a1a1a" stroke-width="1.2" fill="none" stroke-linecap="round" stroke-linejoin="round" />
<path d="M263.7 1250.6 L278.8 1258.4" stroke="#1a1a1a" stroke-width="0.7" fill="none" stroke-linecap="round" stroke-linejoin="round" />
<path d="M265 1221.4 L292.5 1238.2" stroke="#1a1a1a" stroke-width="0.7" fill="none" stroke-linecap="round" stroke-linejoin="round" />
<path d="M292.5 1238.2 L292.5 1261.7" stroke="#aaa" stroke-width="0.9" fill="none" stroke-linecap="round" stroke-linejoin="round" />
<path d="M292.5 1261.7 L278.8 1269.6" stroke="#1a1a1a" stroke-width="0.7" fill="none" stroke-linecap="round" stroke-linejoin="round" />
<path d="M265 1218.6 L265 1221.4" stroke="#1a1a1a" stroke-width="0.8" fill="none" stroke-linecap="round" stroke-linejoin="round" />
</g>
<g id="c23">
<circle cx="204.6" cy="1317.2" r="39.5" stroke="#222" stroke-width="0.8" fill="none"/>
<path d="M205.6 1281.8 C204 1284.6 201 1284.4 199.2 1285.4 C197.6 1286.4 196.6 1287.8 194.4 1288.2 C192 1288.6 190.8 1290 191.2 1291.8 C191.6 1293.6 193.8 1293.8 196 1292.4 L209.6 1284.4" stroke="#1a1a1a" stroke-width="1.3" fill="none" stroke-linecap="round" stroke-linejoin="round" />
<ellipse cx="203.4" cy="1305.2" rx="9.2" ry="6.6" stroke="#1a1a1a" stroke-width="1.3" fill="#fff"/>
<ellipse cx="203.4" cy="1304.3" rx="9.2" ry="6.6" stroke="#1a1a1a" stroke-width="1.6" fill="#fff"/>
<ellipse cx="203.4" cy="1304.6" rx="4.1" ry="3" stroke="#1a1a1a" stroke-width="1.2" fill="#fff"/>
<path d="M200 1305.6 C201.6 1304.2 205 1304.2 206.8 1305.6" stroke="#555" stroke-width="0.8" fill="none" stroke-linecap="round" stroke-linejoin="round" />
<path d="M188.7 1331 L188.7 1343.5 C189.4 1355 217.2 1355 218 1343.5 L218 1331 C217 1327 215 1325.4 214.6 1324 L214.6 1321 C213 1312.6 193.6 1312.6 192 1321 L192 1324 C191.4 1326 189.4 1327.6 188.7 1331 Z" stroke="#1a1a1a" stroke-width="1.7" fill="#fff" stroke-linecap="round" stroke-linejoin="round" />
<path d="M192 1322.4 C193 1331.6 213.6 1331.6 214.6 1322.4" stroke="#1a1a1a" stroke-width="1.0" fill="none" stroke-linecap="round" stroke-linejoin="round" />
<path d="M192 1326.4 C194 1336 212.6 1336 214.8 1326.4" stroke="#1a1a1a" stroke-width="0.9" fill="none" stroke-linecap="round" stroke-linejoin="round" />
<path d="M189 1332 C192 1342.4 215 1342.4 217.8 1332" stroke="#1a1a1a" stroke-width="0.9" fill="none" stroke-linecap="round" stroke-linejoin="round" />
<ellipse cx="203.4" cy="1322.5" rx="4.4" ry="2.6" stroke="#1a1a1a" stroke-width="0.9" fill="none"/>
</g>
<g id="p22">
<path d="M268.5 1374.2 L337.1 1333.7 L343.6 1335.7 L382.8 1359.2 L399.1 1351.3 L402.4 1352 L412.8 1346.8 L414.8 1348.1 L414.8 1376.2 L402.4 1383.3 L399.1 1382 L354.7 1406.9 L354.7 1410.8 L341.6 1418 L339 1416.7 L284.6 1387.2 L273.1 1393.1 L268.5 1390.5 Z" stroke="#1a1a1a" stroke-width="1.2" fill="#fff" stroke-linecap="round" stroke-linejoin="round" />
<path d="M380.9 1359.4 L381.9 1355.3 C381.9 1352.5 386.3 1352.5 386.3 1355.3 L387.3 1359.4 C386.3 1361.0 381.9 1361.0 380.9 1359.4 Z" stroke="#333" stroke-width="0.8" fill="#fff" stroke-linecap="round" stroke-linejoin="round" />
<path d="M382.3 1355.7 C383.1 1356.7 385.1 1356.7 385.9 1355.7" stroke="#777" stroke-width="0.6" fill="none" stroke-linecap="round" stroke-linejoin="round" />
<clipPath id="c22"><path d="M268.5 1374.2 L337.1 1333.7 L382.8 1359.2 L352.7 1377.5 L351.4 1381.4 L339 1388.6 L339 1400 L268 1400 Z"/></clipPath>
<g clip-path="url(#c22)"><ellipse cx="333.1" cy="1369.6" rx="33.3" ry="22.2" stroke="#1a1a1a" stroke-width="0.8" fill="none"/><ellipse cx="333.4" cy="1370.4" rx="32" ry="21" stroke="#444" stroke-width="0.7" fill="none"/></g>
<line x1="270.4" y1="1374.9" x2="339.6" y2="1414.2" stroke="#1a1a1a" stroke-width="0.8" stroke-linecap="round" />
<path d="M271.2 1378.8 L271.2 1389.4 L273.8 1390.6 L283.6 1385.4" stroke="#1a1a1a" stroke-width="0.8" fill="none" stroke-linecap="round" stroke-linejoin="round" />
<path d="M273.4 1380 L273.4 1388.6" stroke="#666" stroke-width="0.7" fill="none" stroke-linecap="round" stroke-linejoin="round" />
<path d="M339 1416.7 L339 1388.6 L351.4 1381.4 L352.7 1377.5 L399.1 1351.3" stroke="#1a1a1a" stroke-width="1.1" fill="none" stroke-linecap="round" stroke-linejoin="round" />
<path d="M341.6 1418 L341.6 1389.4 L353.8 1382.4 L354.6 1379 L399.4 1353.6" stroke="#1a1a1a" stroke-width="0.8" fill="none" stroke-linecap="round" stroke-linejoin="round" />
<line x1="354.7" y1="1380.6" x2="354.7" y2="1407.0" stroke="#1a1a1a" stroke-width="0.9" stroke-linecap="round" />
<line x1="399.1" y1="1351.3" x2="399.1" y2="1382.0" stroke="#1a1a1a" stroke-width="0.9" stroke-linecap="round" />
<line x1="402.4" y1="1352.0" x2="402.4" y2="1383.3" stroke="#1a1a1a" stroke-width="0.9" stroke-linecap="round" />
<line x1="400.6" y1="1352.4" x2="400.6" y2="1382.4" stroke="#888" stroke-width="0.7" stroke-linecap="round" />
<line x1="340.2" y1="1389.4" x2="340.2" y2="1416.8" stroke="#999" stroke-width="0.7" stroke-linecap="round" />
<path d="M337.1 1344.0 L338.1 1329.8 C338.1 1327.0 342.5 1327.0 342.5 1329.8 L343.5 1344.0 C342.5 1345.6 338.1 1345.6 337.1 1344.0 Z" stroke="#333" stroke-width="0.8" fill="#fff" stroke-linecap="round" stroke-linejoin="round" />
<path d="M338.5 1330.2 C339.3 1331.2 341.3 1331.2 342.1 1330.2" stroke="#777" stroke-width="0.6" fill="none" stroke-linecap="round" stroke-linejoin="round" />
<path d="M284.9 1374.6 L285.9 1359.9 C285.9 1357.1 290.3 1357.1 290.3 1359.9 L291.3 1374.6 C290.3 1376.2 285.9 1376.2 284.9 1374.6 Z" stroke="#333" stroke-width="0.8" fill="#fff" stroke-linecap="round" stroke-linejoin="round" />
<path d="M286.3 1360.3 C287.1 1361.3 289.1 1361.3 289.9 1360.3" stroke="#777" stroke-width="0.6" fill="none" stroke-linecap="round" stroke-linejoin="round" />
<path d="M328.9 1400.0 L329.9 1386.0 C329.9 1383.2 334.3 1383.2 334.3 1386.0 L335.3 1400.0 C334.3 1401.6 329.9 1401.6 328.9 1400.0 Z" stroke="#333" stroke-width="0.8" fill="#fff" stroke-linecap="round" stroke-linejoin="round" />
<path d="M330.3 1386.4 C331.1 1387.4 333.1 1387.4 333.9 1386.4" stroke="#777" stroke-width="0.6" fill="none" stroke-linecap="round" stroke-linejoin="round" />
</g>
<g id="c30">
<circle cx="576.4" cy="1253.2" r="115" stroke="#222" stroke-width="0.8" fill="none"/>
<path d="M474 1227.5 C474 1225.6 474.6 1225 476 1224.2 L495.4 1212.6 C496.8 1211.8 498 1211.8 499.4 1212.6 L528.8 1228.8 C530 1229.4 530.5 1230.2 530.5 1231.6 L530.8 1266.6 C530.8 1268 530.4 1268.8 529.2 1269.6 L507.8 1282.6 C506.4 1283.4 505.4 1283.4 504 1282.6 L475.6 1264.4 C474.4 1263.6 474 1262.8 474 1261.4 Z" stroke="#1a1a1a" stroke-width="2.2" fill="#fff" stroke-linecap="round" stroke-linejoin="round" />
<path d="M502.8 1250.1 L502.8 1246 C502.8 1243.6 503.8 1242.6 505.7 1241.6 L528.6 1229.2" stroke="#1a1a1a" stroke-width="1.1" fill="none" stroke-linecap="round" stroke-linejoin="round" />
<path d="M504.7 1250 L504.7 1247 C504.7 1244.8 505.6 1243.8 507.2 1243 L528.8 1231.2" stroke="#1a1a1a" stroke-width="0.8" fill="none" stroke-linecap="round" stroke-linejoin="round" />
<line x1="504.7" y1="1247.0" x2="504.7" y2="1279.6" stroke="#444" stroke-width="0.8" stroke-linecap="round" />
<line x1="528.4" y1="1231.4" x2="528.4" y2="1268.0" stroke="#1a1a1a" stroke-width="0.9" stroke-linecap="round" />
<path d="M506.4 1281.4 L529.4 1267.6" stroke="#1a1a1a" stroke-width="1.0" fill="none" stroke-linecap="round" stroke-linejoin="round" />
<path d="M502.6 1276.6 C502.2 1279 503 1281 504.6 1281.8" stroke="#1a1a1a" stroke-width="1.0" fill="none" stroke-linecap="round" stroke-linejoin="round" />
<path d="M516.6 1243.5 L524.1 1247.8 L524.1 1251.6 L516.6 1247.8 Z" stroke="#1a1a1a" stroke-width="1.1" fill="#fff" stroke-linecap="round" stroke-linejoin="round" />
<path d="M521.6 1246.6 L521.6 1250.2" stroke="#1a1a1a" stroke-width="0.8" fill="none" stroke-linecap="round" stroke-linejoin="round" />
<path d="M516.6 1262.9 L524.1 1267.2 L524.1 1271.0 L516.6 1267.2 Z" stroke="#1a1a1a" stroke-width="1.1" fill="#fff" stroke-linecap="round" stroke-linejoin="round" />
<path d="M521.6 1266.0 L521.6 1269.6" stroke="#1a1a1a" stroke-width="0.8" fill="none" stroke-linecap="round" stroke-linejoin="round" />
<path d="M535.8 1288.6 C537.4 1286.6 536.4 1284.8 534.6 1285.4 L524 1290.6 C519.6 1293 517.6 1296 517.2 1300 C517 1306 520 1312 519.4 1320 C519 1328 516.4 1334 517 1339 C517.4 1341.6 519.6 1341.6 522 1340.6 L534.6 1333.6 C536.6 1332.4 536.8 1330 535.6 1328.6" stroke="#333" stroke-width="1.0" fill="none" stroke-linecap="round" stroke-linejoin="round" />
<path d="M534.6 1286.4 L524.6 1291.6 C520.6 1294 518.8 1296.6 518.6 1300 C518.6 1306 517.6 1312 518 1320 C518.4 1328 518.6 1334 518 1338.6" stroke="#555" stroke-width="0.7" fill="none" stroke-linecap="round" stroke-linejoin="round" />
<path d="M536.2 1243.2 L545.6 1247.4 L545 1251 L535.4 1247.6 C533.4 1246.6 534 1242.6 536.2 1243.2 Z" stroke="#1a1a1a" stroke-width="0.9" fill="#fff" stroke-linecap="round" stroke-linejoin="round" />
<ellipse cx="535.6" cy="1245.4" rx="1.3" ry="2.2" transform="rotate(-25 535.6 1245.4)" stroke="#1a1a1a" stroke-width="0.7" fill="#fff"/>
<path d="M548.3 1246.9 L566 1253.4 L575.1 1250.3 M562.6 1256 L575.1 1251.6" stroke="#1a1a1a" stroke-width="0.9" fill="none" stroke-linecap="round" stroke-linejoin="round" />
<path d="M542.6 1253.7 L548.3 1246.9 L551.6 1247.6 L562.6 1253.6 L562.6 1302.9 L554 1308 L543.8 1302.2 C542.8 1301.6 542.6 1301 542.6 1300 Z" stroke="#1a1a1a" stroke-width="1.1" fill="#fff" stroke-linecap="round" stroke-linejoin="round" />
<path d="M542.6 1253.7 L554 1260 L562.6 1255.4" stroke="#1a1a1a" stroke-width="0.8" fill="none" stroke-linecap="round" stroke-linejoin="round" />
<line x1="554.0" y1="1260.0" x2="554.0" y2="1308.0" stroke="#666" stroke-width="0.8" stroke-linecap="round" />
<path d="M575.1 1241.1 L608.9 1222.3 L614.6 1222.9 L620.3 1220 C622.6 1219.6 625 1220.4 627.1 1221.7 L643.1 1232 L639.7 1235.4 L647.7 1245.7 L647.1 1251.4 L644.3 1253.1 L644.6 1254.2 L651.1 1250.3 L651.7 1264 L642.6 1269.7 L643.1 1274.3 L650.6 1270.3 L650 1280 C649.6 1283.6 647.6 1286 644.3 1288 L598.6 1314.3 C595 1316.6 592 1318.6 589.4 1318.9 C586 1319.2 583 1318.6 580.9 1317.7 L579.7 1312 L567.7 1304 L567.7 1288 L564.9 1286 L564.9 1264.6 L575.1 1259 Z" stroke="#1a1a1a" stroke-width="1.2" fill="#fff" stroke-linecap="round" stroke-linejoin="round" />
<path d="M575.6 1241.6 C580 1239 585 1236.4 589.4 1236.6 C597 1237.6 604 1241 610 1245.7 C616 1250 621 1254 623.7 1257.1 L621.4 1300.6" stroke="#1a1a1a" stroke-width="0.8" fill="none" stroke-linecap="round" stroke-linejoin="round" />
<path d="M580 1241 C590 1241.6 597 1244 603.1 1248 C609 1252 613 1258 615.7 1264 L615.1 1278.9" stroke="#1a1a1a" stroke-width="0.8" fill="none" stroke-linecap="round" stroke-linejoin="round" />
<path d="M615.1 1278.9 L594 1266" stroke="#1a1a1a" stroke-width="0.8" fill="none" stroke-linecap="round" stroke-linejoin="round" />
<path d="M572.9 1259.8 C572.9 1258 574.2 1257.2 575.7 1257.1 L579.1 1257.1 C581.4 1257.3 583.7 1259.6 583.7 1261.7 L583.7 1269.7 L578 1267.4 C575 1266.2 572.9 1265.2 572.9 1263.2 Z" stroke="#1a1a1a" stroke-width="1.1" fill="#fff" stroke-linecap="round" stroke-linejoin="round" />
<path d="M575.4 1263 L579 1261 M583.7 1261.7 L600 1252.6 M583.7 1269.7 L588 1267.4" stroke="#1a1a1a" stroke-width="0.8" fill="none" stroke-linecap="round" stroke-linejoin="round" />
<path d="M585 1253.7 L597.6 1246.9 L598.2 1248.2 L585.8 1255.2 Z" stroke="#1a1a1a" stroke-width="0.8" fill="#bbb" stroke-linecap="round" stroke-linejoin="round" />
<path d="M585.2 1265 L604.4 1257.6 L605 1259.2 L586 1266.8 Z" stroke="#1a1a1a" stroke-width="0.8" fill="#bbb" stroke-linecap="round" stroke-linejoin="round" />
<path d="M574 1256 L590 1247 L597.4 1246.6" stroke="#1a1a1a" stroke-width="0.8" fill="none" stroke-linecap="round" stroke-linejoin="round" />
<path d="M583.7 1269.7 L603.1 1282.3 L597.4 1314.3" stroke="#1a1a1a" stroke-width="0.8" fill="none" stroke-linecap="round" stroke-linejoin="round" />
<path d="M567.7 1288 C574 1289 579 1292 579.1 1299 L580.2 1312" stroke="#1a1a1a" stroke-width="0.8" fill="none" stroke-linecap="round" stroke-linejoin="round" />
<path d="M569.4 1269.7 L573.4 1269.7 L573.4 1284.6 L569.4 1285.7 Z" stroke="#1a1a1a" stroke-width="1.0" fill="#fff" stroke-linecap="round" stroke-linejoin="round" />
<line x1="570.4" y1="1270.4" x2="570.4" y2="1285.0" stroke="#333" stroke-width="1.2" stroke-linecap="round" />
<path d="M564.9 1264.6 L569.4 1267.4 M564.9 1283.4 L567.7 1285.2" stroke="#1a1a1a" stroke-width="0.8" fill="none" stroke-linecap="round" stroke-linejoin="round" />
</g>
<g transform="translate(656.2,181.3) scale(0.955)">
<g id="comp28" transform="translate(0,0)">
<path d="M359.7 1238.2 L365.6 1242.1 L370.2 1239.5 L385.2 1249.3 L369.5 1259.1 L368.9 1262.3 L362.4 1257.1 L353.2 1261.7 L356.5 1255.2 Z" stroke="#1a1a1a" stroke-width="1.2" fill="#fff" stroke-linecap="round" stroke-linejoin="round" />
<path d="M369.5 1259.1 L363 1254.6 L356.5 1255.2" stroke="#1a1a1a" stroke-width="0.8" fill="none" stroke-linecap="round" stroke-linejoin="round" />
<ellipse cx="371.5" cy="1248.6" rx="4.2" ry="2.5" stroke="#1a1a1a" stroke-width="0.8" fill="none"/>
<path d="M242.8 1268.9 L254.6 1262.4 L274.2 1272.1 L284 1276 L306.2 1286.5 L312.9 1282.6 L312.7 1291.1 L296.4 1300.2 L280.7 1291.1 L281.4 1287.2 L267.7 1276.7 L263.1 1275.4 L258.5 1278 Z" stroke="#1a1a1a" stroke-width="1.2" fill="#fff" stroke-linecap="round" stroke-linejoin="round" />
<ellipse cx="256.6" cy="1268.9" rx="3.9" ry="2.4" stroke="#1a1a1a" stroke-width="0.8" fill="none"/>
<ellipse cx="296.4" cy="1291.1" rx="4.2" ry="2.5" stroke="#1a1a1a" stroke-width="0.8" fill="none"/>
<path d="M267.7 1276.7 L274.2 1272.1 M306.2 1286.5 L313.4 1282.6 M312.7 1291.1 L311.6 1293.6 L310.4 1292.4" stroke="#1a1a1a" stroke-width="0.8" fill="none" stroke-linecap="round" stroke-linejoin="round" />
<path d="M279.4 1282.6 L289.8 1277.4 M281.6 1284.6 L292.4 1279" stroke="#555" stroke-width="0.7" fill="none" stroke-linecap="round" stroke-linejoin="round" />
<path d="M263.7 1213.4 L263.7 1262 C270 1272 290 1283 313.4 1282.6 C336 1281 352 1268 356.5 1252.6 C358.6 1246 359.1 1240 359.1 1236.9 L359.1 1205 Z" stroke="#1a1a1a" stroke-width="1.0" fill="#fff" stroke-linecap="round" stroke-linejoin="round" />
<path d="M263.7 1213.4 C261.6 1206 261.2 1199 261.8 1192.5 C262.6 1186 264 1180 266.3 1174.2 C269.6 1166.6 274.6 1160.4 280.7 1155.9 C286 1152 291.6 1149.2 297.7 1147.4 C302.4 1146.4 307 1146 312.1 1146.1 C318 1146.2 323.6 1146.8 329 1148.1 C335.4 1150 341 1153 346 1157.2 C350.6 1161.4 354 1166.6 356.5 1172.9 C358.8 1178.6 361.2 1184.6 361.7 1191.2 C362 1197 361.4 1201 360.4 1205.5 C357 1218 338 1231.7 312.1 1231.7 C286 1231.7 267 1222 263.7 1213.4 Z" stroke="#1a1a1a" stroke-width="1.1" fill="#fff" stroke-linecap="round" stroke-linejoin="round" />
<path d="M262.8 1197 C266 1215 287 1229.4 312.1 1229.4 C337 1229.4 357.6 1216 360.6 1200" stroke="#1a1a1a" stroke-width="0.7" fill="none" stroke-linecap="round" stroke-linejoin="round" />
<path d="M263.9 1214.6 C270 1227 290 1236.4 312.1 1236.2 C334 1236 354 1226.6 359.2 1214.6" stroke="#1a1a1a" stroke-width="0.8" fill="none" stroke-linecap="round" stroke-linejoin="round" />
<ellipse cx="312.1" cy="1165.4" rx="4.6" ry="2.1" stroke="#1a1a1a" stroke-width="0.8" fill="#fff"/>
<path d="M309.6 1165 L309.6 1150.6 C309.6 1148 314.7 1148 314.7 1150.6 L314.7 1165" stroke="#1a1a1a" stroke-width="0.8" fill="#fff" stroke-linecap="round" stroke-linejoin="round" />
<path d="M310.4 1165.8 C311.4 1166.6 313.4 1166.6 314.2 1165.8" stroke="#666" stroke-width="0.7" fill="none" stroke-linecap="round" stroke-linejoin="round" />
<path d="M351.2 1164 C354 1162.6 357 1161.4 360.4 1161.4 C365 1161.6 369.6 1164 372.1 1167 L369.6 1171.6 C366.6 1168.6 363.6 1166.8 360.6 1166.8 C358 1166.8 355.6 1168 353.6 1170.6 Z" stroke="#1a1a1a" stroke-width="1.0" fill="#fff" stroke-linecap="round" stroke-linejoin="round" />
<path d="M349.9 1164.4 L352.6 1171.2" stroke="#1a1a1a" stroke-width="1.6" fill="none" stroke-linecap="round" stroke-linejoin="round" />
<path d="M352.6 1171 C354.6 1178 358 1186 360.8 1192" stroke="#1a1a1a" stroke-width="0.8" fill="none" stroke-linecap="round" stroke-linejoin="round" />
<path d="M356.8 1224.6 L374.6 1224.6 L374.6 1228.4 L356.8 1228.4 Z" stroke="#1a1a1a" stroke-width="0.9" fill="#fff" stroke-linecap="round" stroke-linejoin="round" />
<path d="M359.1 1228.6 L359.1 1237" stroke="#1a1a1a" stroke-width="0.9" fill="none" stroke-linecap="round" stroke-linejoin="round" />
<path d="M265 1218.6 L252 1225.1 L252 1231 L263.7 1238 L263.7 1250.6 L252 1257.8 L254.4 1260.4 L278.8 1271.6 L292.5 1261.7 L292.5 1238.2 L265 1221.2 Z" stroke="#fff" stroke-width="0.6" fill="#fff" stroke-linecap="round" stroke-linejoin="round" />
<path d="M265 1218.6 L252 1225.1 L252 1231 L278.8 1246.7 L278.8 1270.8" stroke="#1a1a1a" stroke-width="1.5" fill="none" stroke-linecap="round" stroke-linejoin="round" />
<path d="M263.7 1238.2 L263.7 1250.6 L252 1257.8 L278 1271.2" stroke="#1a1a1a" stroke-width="1.2" fill="none" stroke-linecap="round" stroke-linejoin="round" />
<path d="M263.7 1250.6 L278.8 1258.4" stroke="#1a1a1a" stroke-width="0.7" fill="none" stroke-linecap="round" stroke-linejoin="round" />
<path d="M265 1221.4 L292.5 1238.2" stroke="#1a1a1a" stroke-width="0.7" fill="none" stroke-linecap="round" stroke-linejoin="round" />
<path d="M292.5 1238.2 L292.5 1261.7" stroke="#aaa" stroke-width="0.9" fill="none" stroke-linecap="round" stroke-linejoin="round" />
<path d="M292.5 1261.7 L278.8 1269.6" stroke="#1a1a1a" stroke-width="0.7" fill="none" stroke-linecap="round" stroke-linejoin="round" />
<path d="M265 1218.6 L265 1221.4" stroke="#1a1a1a" stroke-width="0.8" fill="none" stroke-linecap="round" stroke-linejoin="round" />
</g>
</g>
<g transform="translate(657.6,248) scale(0.956)">
<g id="pan28" transform="translate(0,0)">
<path d="M230.1 1102.4 C243 1089 258 1077 271.2 1068.2 C285 1060 300 1053.4 313.1 1048.1 L348.7 1034.9 L358 1034.4 L393 1054.3 L393 1062 C393.4 1068 392.6 1072 390.6 1076 C385 1085 377 1092.6 367.4 1099.3 C352 1111 336 1121 320.8 1128.7 C305 1135.6 290 1140 275.1 1141.5 L266.5 1141.1 L231.6 1122.5 Z" stroke="#1a1a1a" stroke-width="1.3" fill="#fff" stroke-linecap="round" stroke-linejoin="round" />
<path d="M231.8 1103 C244 1090.6 259 1078.6 272 1069.8 C286 1061.6 300 1055.2 313.8 1049.8 L348.9 1036.6 L357.6 1036.2 L391.4 1055.4" stroke="#1a1a1a" stroke-width="0.7" fill="none" stroke-linecap="round" stroke-linejoin="round" />
<path d="M392.6 1062 C386 1071 372 1084 344.1 1094.6 C330 1102.6 315 1110 300.7 1116.3 C292 1120.6 283 1124.6 274.3 1127.2 L265.8 1127.2 L230.1 1108.6 L230.1 1102.4" stroke="#1a1a1a" stroke-width="1.0" fill="none" stroke-linecap="round" stroke-linejoin="round" />
<path d="M391.6 1060.6 C385 1069.6 371 1082.4 343.4 1093 C329 1101 314 1108.4 300 1114.7 C291 1119 282.4 1123 273.9 1125.6 L266.2 1125.6 L231.6 1107.2" stroke="#333" stroke-width="0.7" fill="none" stroke-linecap="round" stroke-linejoin="round" />
<path d="M240.2 1110.1 L348.7 1049.6 L358 1049.6 L384.4 1065.1" stroke="#1a1a1a" stroke-width="0.7" fill="none" stroke-linecap="round" stroke-linejoin="round" />
<path d="M348.7 1035.4 L348.7 1049.4 M358 1035 L358 1049.4" stroke="#888" stroke-width="0.7" fill="none" stroke-linecap="round" stroke-linejoin="round" />
<path d="M265.8 1127.4 L266.5 1140.8 M274.3 1127.4 L275.1 1141.2" stroke="#666" stroke-width="0.7" fill="none" stroke-linecap="round" stroke-linejoin="round" />
<path d="M345.2 1093.2 C342 1083 328 1077 311.5 1077.1 C292 1077.4 277.6 1086 277.4 1097 C277.4 1106 284 1113.4 296 1117.4" stroke="#1a1a1a" stroke-width="0.8" fill="none" stroke-linecap="round" stroke-linejoin="round" />
<path d="M343 1094.2 C340 1084.6 327 1079 311.5 1079.1 C293.6 1079.4 279.6 1087.4 279.4 1097 C279.4 1105.4 286.4 1112.2 299 1116" stroke="#333" stroke-width="0.7" fill="none" stroke-linecap="round" stroke-linejoin="round" />
<ellipse cx="311.5" cy="1093.8" rx="6.2" ry="4.2" stroke="#1a1a1a" stroke-width="0.8" fill="none"/>
</g>
</g>
<g id="rods28">
<path d="M956 1309.6 C956 1308 958.6 1308 958.6 1309.6" stroke="#1a1a1a" stroke-width="0.9" fill="none" stroke-linecap="round" stroke-linejoin="round" />
<path d="M957.6 1309.4 L958.9 1407.6" stroke="#1a1a1a" stroke-width="1.3" fill="none" stroke-linecap="round" stroke-linejoin="round" />
<path d="M958.4 1344.6 C955 1343.6 953.4 1345.4 954.2 1347.6 C955 1350 957 1350.6 958.5 1350" stroke="#1a1a1a" stroke-width="1.1" fill="none" stroke-linecap="round" stroke-linejoin="round" />
<path d="M958.9 1407.6 C958 1409.6 955.6 1409.8 954.6 1408.6" stroke="#1a1a1a" stroke-width="1.0" fill="none" stroke-linecap="round" stroke-linejoin="round" />
<path d="M994.2 1287.6 C994.2 1286 996.8 1286 996.8 1287.6" stroke="#1a1a1a" stroke-width="0.9" fill="none" stroke-linecap="round" stroke-linejoin="round" />
<path d="M996.2 1287.4 L997.6 1386" stroke="#1a1a1a" stroke-width="1.3" fill="none" stroke-linecap="round" stroke-linejoin="round" />
<path d="M997 1323.6 C993.6 1322.6 991.8 1324.4 992.6 1326.6 C993.4 1329 995.6 1329.6 997.1 1329" stroke="#1a1a1a" stroke-width="1.1" fill="none" stroke-linecap="round" stroke-linejoin="round" />
<path d="M997.6 1386 C996.8 1388.4 994.6 1388.6 993.6 1387.4" stroke="#1a1a1a" stroke-width="1.0" fill="none" stroke-linecap="round" stroke-linejoin="round" />
</g>
<g id="leaders">
<line x1="186.3" y1="251.0" x2="207.8" y2="292.9" stroke="#222" stroke-width="0.85" stroke-linecap="round" />
<line x1="281.2" y1="255.1" x2="289.8" y2="344.9" stroke="#222" stroke-width="0.85" stroke-linecap="round" />
<line x1="152.2" y1="348.6" x2="152.2" y2="388.8" stroke="#222" stroke-width="0.85" stroke-linecap="round" />
<line x1="344.2" y1="431.1" x2="286.4" y2="463.4" stroke="#222" stroke-width="0.85" stroke-linecap="round" />
<line x1="183.5" y1="493.3" x2="223.8" y2="501.8" stroke="#222" stroke-width="0.85" stroke-linecap="round" />
<line x1="354.3" y1="506.0" x2="295.3" y2="518.1" stroke="#222" stroke-width="0.85" stroke-linecap="round" />
<line x1="154.4" y1="621.0" x2="183.3" y2="670.2" stroke="#222" stroke-width="0.85" stroke-linecap="round" />
<line x1="347.8" y1="591.6" x2="321.3" y2="643.7" stroke="#222" stroke-width="0.85" stroke-linecap="round" />
<line x1="397.5" y1="611.0" x2="374.3" y2="672.1" stroke="#222" stroke-width="0.85" stroke-linecap="round" />
<line x1="406.0" y1="234.3" x2="393.5" y2="276.7" stroke="#222" stroke-width="0.85" stroke-linecap="round" />
<line x1="494.1" y1="232.2" x2="465.4" y2="261.5" stroke="#222" stroke-width="0.85" stroke-linecap="round" />
<line x1="616.1" y1="219.2" x2="582.1" y2="269.6" stroke="#222" stroke-width="0.85" stroke-linecap="round" />
<line x1="757.3" y1="485.9" x2="728.4" y2="519.7" stroke="#222" stroke-width="0.85" stroke-linecap="round" />
<line x1="667.9" y1="557.2" x2="672.1" y2="603.0" stroke="#222" stroke-width="0.85" stroke-linecap="round" />
<line x1="677.3" y1="735.1" x2="707.4" y2="767.0" stroke="#222" stroke-width="0.85" stroke-linecap="round" />
<line x1="986.4" y1="335.0" x2="924.9" y2="381.3" stroke="#222" stroke-width="0.85" stroke-linecap="round" />
<line x1="1006.2" y1="435.2" x2="965.2" y2="482.9" stroke="#222" stroke-width="0.85" stroke-linecap="round" />
<line x1="928.1" y1="453.2" x2="865.5" y2="518.6" stroke="#222" stroke-width="0.85" stroke-linecap="round" />
<line x1="862.8" y1="645.0" x2="894.6" y2="710.6" stroke="#222" stroke-width="0.85" stroke-linecap="round" />
<line x1="1012.2" y1="650.7" x2="996.0" y2="724.4" stroke="#222" stroke-width="0.85" stroke-linecap="round" />
<line x1="932.5" y1="594.2" x2="956.7" y2="607.7" stroke="#222" stroke-width="0.85" stroke-linecap="round" />
<line x1="246.3" y1="819.8" x2="316.7" y2="841.7" stroke="#222" stroke-width="0.85" stroke-linecap="round" />
<line x1="918.3" y1="861.3" x2="954.2" y2="850.1" stroke="#222" stroke-width="0.85" stroke-linecap="round" />
<line x1="935.1" y1="895.3" x2="985.4" y2="866.4" stroke="#222" stroke-width="0.85" stroke-linecap="round" />
<line x1="376.8" y1="988.9" x2="323.2" y2="1013.4" stroke="#222" stroke-width="0.85" stroke-linecap="round" />
<line x1="446.9" y1="1055.0" x2="394.7" y2="1069.5" stroke="#222" stroke-width="0.85" stroke-linecap="round" />
<line x1="400.4" y1="1123.1" x2="347.8" y2="1152.6" stroke="#222" stroke-width="0.85" stroke-linecap="round" />
<line x1="138.6" y1="1261.9" x2="187.1" y2="1288.8" stroke="#222" stroke-width="0.85" stroke-linecap="round" />
<line x1="136.3" y1="1310.5" x2="189.9" y2="1304.4" stroke="#222" stroke-width="0.85" stroke-linecap="round" />
<line x1="143.3" y1="1364.6" x2="185.8" y2="1332.7" stroke="#222" stroke-width="0.85" stroke-linecap="round" />
<line x1="220.4" y1="1425.1" x2="305.1" y2="1403.5" stroke="#222" stroke-width="0.85" stroke-linecap="round" />
<line x1="227.9" y1="1284.1" x2="249.6" y2="1271.6" stroke="#222" stroke-width="0.85" stroke-linecap="round" />
<line x1="532.7" y1="1193.7" x2="510.5" y2="1215.3" stroke="#222" stroke-width="0.85" stroke-linecap="round" />
<line x1="699.9" y1="1329.0" x2="639.8" y2="1292.4" stroke="#222" stroke-width="0.85" stroke-linecap="round" />
<line x1="506.6" y1="1373.4" x2="518.4" y2="1340.7" stroke="#222" stroke-width="0.85" stroke-linecap="round" />
<line x1="288.0" y1="1252.9" x2="461.7" y2="1252.9" stroke="#222" stroke-width="0.85" stroke-linecap="round" />
<line x1="812.2" y1="1384.5" x2="903.7" y2="1350.9" stroke="#222" stroke-width="0.85" stroke-linecap="round" />
<line x1="812.2" y1="1384.5" x2="957.6" y2="1387.1" stroke="#222" stroke-width="0.85" stroke-linecap="round" />
</g>

</svg>
<div style="position:absolute;left:0;top:0;width:1225px;height:1585px;will-change:transform;">
<svg width="1225" height="1585" viewBox="0 0 1225 1585">
<g id="labels" style="opacity:0.999">
<text class="t" transform="translate(178.5,245.9) scale(1.045,1)">8</text>
<text class="t" transform="translate(283.5,248.9) scale(1.045,1)">5</text>
<text class="t" transform="translate(152.9,412.1) scale(1.045,1)">45</text>
<text class="t" transform="translate(358.4,437.4) scale(1.045,1)">6</text>
<text class="t" transform="translate(165.2,499.9) scale(1.045,1)">45</text>
<text class="t" transform="translate(372.4,509.5) scale(1.045,1)">43</text>
<text class="t" transform="translate(152,612.9) scale(1.045,1)">7</text>
<text class="t" transform="translate(321,666.6) scale(1.045,1)">45</text>
<text class="t" transform="translate(374.2,695.7) scale(1.045,1)">43</text>
<text class="t" transform="translate(405.5,230.3) scale(1.045,1)">41</text>
<text class="t" transform="translate(497.4,230.3) scale(1.045,1)">2</text>
<text class="t" transform="translate(617.5,211.9) scale(1.045,1)">1</text>
<text class="t" transform="translate(726.3,540.9) scale(1.045,1)">21</text>
<text class="t" transform="translate(670.5,554.1) scale(1.045,1)">20</text>
<text class="t" transform="translate(715.6,789.4) scale(1.045,1)">16</text>
<text class="t" transform="translate(1002.3,339.2) scale(1.045,1)">18</text>
<text class="t" transform="translate(1010,429.9) scale(1.045,1)">14</text>
<text class="t" transform="translate(928.8,448.5) scale(1.045,1)">15</text>
<text class="t" transform="translate(900.7,734.9) scale(1.045,1)">17</text>
<text class="t" transform="translate(992,748.1) scale(1.045,1)">13</text>
<text class="t" transform="translate(230.8,819.9) scale(1.045,1)">4</text>
<text class="t" transform="translate(898.8,867.9) scale(1.045,1)">44</text>
<text class="t" transform="translate(915.5,911.5) scale(1.045,1)">45</text>
<text class="t" transform="translate(399.6,992.2) scale(1.045,1)">27</text>
<text class="t" transform="translate(467.3,1062.3) scale(1.045,1)">26</text>
<text class="t" transform="translate(424.1,1127.7) scale(1.045,1)">29</text>
<text class="t" transform="translate(121.6,1265.4) scale(1.045,1)">25</text>
<text class="t" transform="translate(117.3,1318.2) scale(1.045,1)">24</text>
<text class="t" transform="translate(126.4,1383.1) scale(1.045,1)">23</text>
<text class="t" transform="translate(202.1,1439.9) scale(1.045,1)">22</text>
<text class="t" transform="translate(550.6,1197.7) scale(1.045,1)">55</text>
<text class="t" transform="translate(716.3,1347.9) scale(1.045,1)">30</text>
<text class="t" transform="translate(500.7,1397.6) scale(1.045,1)">32</text>
<text class="t" transform="translate(790.5,1392.4) scale(1.045,1)">28</text>
<text class="t" transform="translate(1070.5,1439.9) scale(1.045,1)">P05C0153</text>
</g>
</svg>
</div>
</body></html>
